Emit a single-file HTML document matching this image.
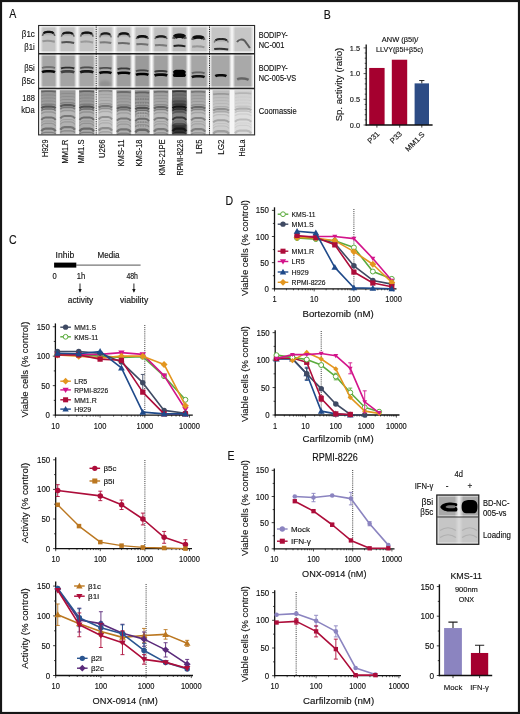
<!DOCTYPE html>
<html><head><meta charset="utf-8"><style>
html,body{margin:0;padding:0;background:#fff;width:520px;height:714px;overflow:hidden}
svg{display:block;will-change:transform}
text{font-family:"Liberation Sans",sans-serif}
</style></head><body>
<svg width="520" height="714" viewBox="0 0 520 714" font-family="Liberation Sans, sans-serif">
<defs><filter id="b1" filterUnits="userSpaceOnUse" x="0" y="0" width="520" height="714"><feGaussianBlur stdDeviation="0.8"/></filter><filter id="b2" filterUnits="userSpaceOnUse" x="0" y="0" width="520" height="714"><feGaussianBlur stdDeviation="1.2"/></filter><filter id="b05" filterUnits="userSpaceOnUse" x="0" y="0" width="520" height="714"><feGaussianBlur stdDeviation="0.45"/></filter></defs>
<rect width="520" height="714" fill="#fff"/>
<text x="9.2" y="18.3" font-size="12" text-anchor="start" fill="#111" stroke="#111" stroke-width="0.14" textLength="7.04385" lengthAdjust="spacingAndGlyphs">A</text>
<text x="323.8" y="18.5" font-size="12" text-anchor="start" fill="#111" stroke="#111" stroke-width="0.14" textLength="7.04385" lengthAdjust="spacingAndGlyphs">B</text>
<text x="9" y="243.7" font-size="12" text-anchor="start" fill="#111" stroke="#111" stroke-width="0.14" textLength="7.6263" lengthAdjust="spacingAndGlyphs">C</text>
<text x="225.4" y="205" font-size="12" text-anchor="start" fill="#111" stroke="#111" stroke-width="0.14" textLength="7.6263" lengthAdjust="spacingAndGlyphs">D</text>
<text x="227.6" y="459.5" font-size="12" text-anchor="start" fill="#111" stroke="#111" stroke-width="0.14" textLength="7.04385" lengthAdjust="spacingAndGlyphs">E</text>
<defs><linearGradient id="gapg" x1="0" x2="1" y1="0" y2="0"><stop offset="0" stop-color="#fff" stop-opacity="0"/><stop offset="0.5" stop-color="#fff" stop-opacity="0.9"/><stop offset="1" stop-color="#fff" stop-opacity="0"/></linearGradient><linearGradient id="arch" x1="0" x2="0" y1="0" y2="1"><stop offset="0" stop-color="#000" stop-opacity="0.25"/><stop offset="1" stop-color="#000" stop-opacity="0"/></linearGradient><filter id="b07" filterUnits="userSpaceOnUse" x="0" y="0" width="520" height="714"><feGaussianBlur stdDeviation="0.7"/></filter><filter id="b03" filterUnits="userSpaceOnUse" x="0" y="0" width="520" height="714"><feGaussianBlur stdDeviation="0.35"/></filter></defs>
<rect x="38.6" y="25.5" width="216.0" height="28.200000000000003" fill="#c4c4c4"/>
<rect x="38.6" y="53.7" width="216.0" height="34.7" fill="#a6a6a6"/>
<rect x="60.0" y="53.7" width="15.299999999999997" height="34.7" fill="#000" opacity="0.01"/>
<rect x="116.6" y="53.7" width="14.400000000000006" height="34.7" fill="#000" opacity="0.05"/>
<rect x="135.0" y="25.5" width="14.400000000000006" height="28.200000000000003" fill="#000" opacity="0.02"/>
<rect x="135.0" y="53.7" width="14.400000000000006" height="34.7" fill="#000" opacity="0.07"/>
<rect x="153.6" y="25.5" width="14.599999999999994" height="28.200000000000003" fill="#000" opacity="0.02"/>
<rect x="153.6" y="53.7" width="14.599999999999994" height="34.7" fill="#000" opacity="0.03"/>
<rect x="172.2" y="25.5" width="14.400000000000006" height="28.200000000000003" fill="#000" opacity="0.03"/>
<rect x="172.2" y="53.7" width="14.400000000000006" height="34.7" fill="#000" opacity="0.02"/>
<rect x="212.8" y="25.5" width="16.599999999999994" height="28.200000000000003" fill="#fff" opacity="0.02"/>
<rect x="212.8" y="53.7" width="16.599999999999994" height="34.7" fill="#fff" opacity="0.02"/>
<rect x="234.6" y="25.5" width="17.0" height="28.200000000000003" fill="#fff" opacity="0.04"/>
<rect x="234.6" y="53.7" width="17.0" height="34.7" fill="#fff" opacity="0.04"/>
<ellipse cx="105" cy="84" rx="6" ry="3.5" fill="#000" opacity="0.12" filter="url(#b1)"/>
<rect x="38.6" y="26.0" width="216.0" height="1.3" fill="#f0f0f0" filter="url(#b03)"/>
<rect x="38.6" y="51.400000000000006" width="216.0" height="1.4" fill="#f0f0f0" filter="url(#b03)"/>
<rect x="38.6" y="54.6" width="216.0" height="1.2" fill="#d4d4d4" filter="url(#b03)"/>
<rect x="38.6" y="86.4" width="216.0" height="1.3" fill="#e0e0e0" filter="url(#b03)"/>
<rect x="36.20" y="25.5" width="6.8" height="62.900000000000006" fill="url(#gapg)"/>
<rect x="37.20" y="53.7" width="4.8" height="34.7" fill="url(#gapg)" opacity="0.6"/>
<rect x="54.60" y="25.5" width="6.8" height="62.900000000000006" fill="url(#gapg)"/>
<rect x="55.60" y="53.7" width="4.8" height="34.7" fill="url(#gapg)" opacity="0.6"/>
<rect x="73.85" y="25.5" width="6.8" height="62.900000000000006" fill="url(#gapg)"/>
<rect x="74.85" y="53.7" width="4.8" height="34.7" fill="url(#gapg)" opacity="0.6"/>
<rect x="92.95" y="25.5" width="6.8" height="62.900000000000006" fill="url(#gapg)"/>
<rect x="93.95" y="53.7" width="4.8" height="34.7" fill="url(#gapg)" opacity="0.6"/>
<rect x="111.10" y="25.5" width="6.8" height="62.900000000000006" fill="url(#gapg)"/>
<rect x="112.10" y="53.7" width="4.8" height="34.7" fill="url(#gapg)" opacity="0.6"/>
<rect x="129.60" y="25.5" width="6.8" height="62.900000000000006" fill="url(#gapg)"/>
<rect x="130.60" y="53.7" width="4.8" height="34.7" fill="url(#gapg)" opacity="0.6"/>
<rect x="148.10" y="25.5" width="6.8" height="62.900000000000006" fill="url(#gapg)"/>
<rect x="149.10" y="53.7" width="4.8" height="34.7" fill="url(#gapg)" opacity="0.6"/>
<rect x="166.80" y="25.5" width="6.8" height="62.900000000000006" fill="url(#gapg)"/>
<rect x="167.80" y="53.7" width="4.8" height="34.7" fill="url(#gapg)" opacity="0.6"/>
<rect x="185.30" y="25.5" width="6.8" height="62.900000000000006" fill="url(#gapg)"/>
<rect x="186.30" y="53.7" width="4.8" height="34.7" fill="url(#gapg)" opacity="0.6"/>
<rect x="205.80" y="25.5" width="6.8" height="62.900000000000006" fill="url(#gapg)"/>
<rect x="206.80" y="53.7" width="4.8" height="34.7" fill="url(#gapg)" opacity="0.6"/>
<rect x="228.60" y="25.5" width="6.8" height="62.900000000000006" fill="url(#gapg)"/>
<rect x="229.60" y="53.7" width="4.8" height="34.7" fill="url(#gapg)" opacity="0.6"/>
<rect x="250.40" y="25.5" width="6.8" height="62.900000000000006" fill="url(#gapg)"/>
<rect x="251.40" y="53.7" width="4.8" height="34.7" fill="url(#gapg)" opacity="0.6"/>
<path d="M42.40 35.90C43.02 33.10 44.26 31.90 46.74 31.90H50.46C52.94 31.90 54.18 33.10 54.80 35.90" fill="url(#arch)" stroke="none" filter="url(#b07)"/>
<path d="M42.40 35.90C43.02 33.10 44.26 31.90 46.74 31.90H50.46C52.94 31.90 54.18 33.10 54.80 35.90" fill="none" stroke="#111" stroke-opacity="0.57" stroke-width="1.53" filter="url(#b05)"/>
<path d="M43.64 33.20C44.88 31.90 46.12 31.90 47.36 31.90H49.84C51.08 31.90 52.32 31.90 53.56 33.20" fill="none" stroke="#0a0a0a" stroke-opacity="0.95" stroke-width="2.295" filter="url(#b05)"/>
<path d="M42.40 41.20Q48.60 40.30 54.80 41.70" fill="none" stroke="#222" stroke-opacity="0.28" stroke-width="2.0" filter="url(#b07)"/>
<path d="M61.40 36.60C62.03 33.80 63.30 32.60 65.84 32.60H69.66C72.19 32.60 73.46 33.80 74.10 36.60" fill="url(#arch)" stroke="none" filter="url(#b07)"/>
<path d="M61.40 36.60C62.03 33.80 63.30 32.60 65.84 32.60H69.66C72.19 32.60 73.46 33.80 74.10 36.60" fill="none" stroke="#111" stroke-opacity="0.54" stroke-width="1.4400000000000002" filter="url(#b05)"/>
<path d="M62.67 33.90C63.94 32.60 65.21 32.60 66.48 32.60H69.02C70.29 32.60 71.56 32.60 72.83 33.90" fill="none" stroke="#0a0a0a" stroke-opacity="0.9" stroke-width="2.16" filter="url(#b05)"/>
<path d="M61.40 42.40Q67.75 41.50 74.10 42.90" fill="none" stroke="#222" stroke-opacity="0.7" stroke-width="2.0" filter="url(#b07)"/>
<path d="M80.60 36.60C81.23 33.80 82.48 32.60 84.98 32.60H88.72C91.22 32.60 92.47 33.80 93.10 36.60" fill="url(#arch)" stroke="none" filter="url(#b07)"/>
<path d="M80.60 36.60C81.23 33.80 82.48 32.60 84.98 32.60H88.72C91.22 32.60 92.47 33.80 93.10 36.60" fill="none" stroke="#111" stroke-opacity="0.57" stroke-width="1.53" filter="url(#b05)"/>
<path d="M81.85 33.90C83.10 32.60 84.35 32.60 85.60 32.60H88.10C89.35 32.60 90.60 32.60 91.85 33.90" fill="none" stroke="#0a0a0a" stroke-opacity="0.95" stroke-width="2.295" filter="url(#b05)"/>
<path d="M80.60 41.90Q86.85 41.00 93.10 42.40" fill="none" stroke="#222" stroke-opacity="0.25" stroke-width="2.0" filter="url(#b07)"/>
<path d="M99.80 37.40C100.37 34.60 101.51 33.40 103.79 33.40H107.21C109.49 33.40 110.63 34.60 111.20 37.40" fill="url(#arch)" stroke="none" filter="url(#b07)"/>
<path d="M99.80 37.40C100.37 34.60 101.51 33.40 103.79 33.40H107.21C109.49 33.40 110.63 34.60 111.20 37.40" fill="none" stroke="#111" stroke-opacity="0.51" stroke-width="1.4400000000000002" filter="url(#b05)"/>
<path d="M100.94 34.70C102.08 33.40 103.22 33.40 104.36 33.40H106.64C107.78 33.40 108.92 33.40 110.06 34.70" fill="none" stroke="#0a0a0a" stroke-opacity="0.85" stroke-width="2.16" filter="url(#b05)"/>
<path d="M99.80 42.50Q105.50 41.60 111.20 43.00" fill="none" stroke="#222" stroke-opacity="0.45" stroke-width="2.0" filter="url(#b07)"/>
<path d="M118.00 37.40C118.59 34.60 119.77 33.40 122.13 33.40H125.67C128.03 33.40 129.21 34.60 129.80 37.40" fill="url(#arch)" stroke="none" filter="url(#b07)"/>
<path d="M118.00 37.40C118.59 34.60 119.77 33.40 122.13 33.40H125.67C128.03 33.40 129.21 34.60 129.80 37.40" fill="none" stroke="#111" stroke-opacity="0.57" stroke-width="1.62" filter="url(#b05)"/>
<path d="M119.18 34.70C120.36 33.40 121.54 33.40 122.72 33.40H125.08C126.26 33.40 127.44 33.40 128.62 34.70" fill="none" stroke="#0a0a0a" stroke-opacity="0.95" stroke-width="2.43" filter="url(#b05)"/>
<path d="M118.00 43.30Q123.90 42.40 129.80 43.80" fill="none" stroke="#222" stroke-opacity="0.55" stroke-width="2.0" filter="url(#b07)"/>
<path d="M136.40 38.90C136.99 37.08 138.17 36.30 140.53 36.30H144.07C146.43 36.30 147.61 37.08 148.20 38.90" fill="url(#arch)" stroke="none" filter="url(#b07)"/>
<path d="M136.40 38.90C136.99 37.08 138.17 36.30 140.53 36.30H144.07C146.43 36.30 147.61 37.08 148.20 38.90" fill="none" stroke="#111" stroke-opacity="0.6" stroke-width="1.71" filter="url(#b05)"/>
<path d="M137.58 37.60C138.76 36.30 139.94 36.30 141.12 36.30H143.48C144.66 36.30 145.84 36.30 147.02 37.60" fill="none" stroke="#0a0a0a" stroke-opacity="1.0" stroke-width="2.565" filter="url(#b05)"/>
<path d="M136.40 44.30Q142.30 43.40 148.20 44.80" fill="none" stroke="#222" stroke-opacity="0.5" stroke-width="2.0" filter="url(#b07)"/>
<path d="M155.00 38.90C155.60 37.08 156.80 36.30 159.20 36.30H162.80C165.20 36.30 166.40 37.08 167.00 38.90" fill="url(#arch)" stroke="none" filter="url(#b07)"/>
<path d="M155.00 38.90C155.60 37.08 156.80 36.30 159.20 36.30H162.80C165.20 36.30 166.40 37.08 167.00 38.90" fill="none" stroke="#111" stroke-opacity="0.51" stroke-width="1.4400000000000002" filter="url(#b05)"/>
<path d="M156.20 37.60C157.40 36.30 158.60 36.30 159.80 36.30H162.20C163.40 36.30 164.60 36.30 165.80 37.60" fill="none" stroke="#0a0a0a" stroke-opacity="0.85" stroke-width="2.16" filter="url(#b05)"/>
<path d="M155.00 45.30Q161.00 44.40 167.00 45.80" fill="none" stroke="#222" stroke-opacity="0.45" stroke-width="2.0" filter="url(#b07)"/>
<path d="M173.60 38.80C174.19 36.70 175.37 35.80 177.73 35.80H181.27C183.63 35.80 184.81 36.70 185.40 38.80" fill="url(#arch)" stroke="none" filter="url(#b07)"/>
<path d="M173.60 38.80C174.19 36.70 175.37 35.80 177.73 35.80H181.27C183.63 35.80 184.81 36.70 185.40 38.80" fill="none" stroke="#111" stroke-opacity="0.6" stroke-width="3.06" filter="url(#b05)"/>
<path d="M174.78 37.10C175.96 35.80 177.14 35.80 178.32 35.80H180.68C181.86 35.80 183.04 35.80 184.22 37.10" fill="none" stroke="#0a0a0a" stroke-opacity="1.0" stroke-width="4.59" filter="url(#b05)"/>
<path d="M173.60 45.90Q179.50 45.00 185.40 46.40" fill="none" stroke="#222" stroke-opacity="1.0" stroke-width="2.0" filter="url(#b07)"/>
<path d="M192.20 39.80C192.81 37.84 194.03 37.00 196.47 37.00H200.13C202.57 37.00 203.79 37.84 204.40 39.80" fill="url(#arch)" stroke="none" filter="url(#b07)"/>
<path d="M192.20 39.80C192.81 37.84 194.03 37.00 196.47 37.00H200.13C202.57 37.00 203.79 37.84 204.40 39.80" fill="none" stroke="#111" stroke-opacity="0.6" stroke-width="2.3400000000000003" filter="url(#b05)"/>
<path d="M193.42 38.30C194.64 37.00 195.86 37.00 197.08 37.00H199.52C200.74 37.00 201.96 37.00 203.18 38.30" fill="none" stroke="#0a0a0a" stroke-opacity="1.0" stroke-width="3.5100000000000002" filter="url(#b05)"/>
<path d="M192.20 46.70Q198.30 45.80 204.40 47.20" fill="none" stroke="#222" stroke-opacity="0.28" stroke-width="2.0" filter="url(#b07)"/>
<path d="M214.20 42.50C214.90 40.05 216.30 39.00 219.10 39.00H223.30C226.10 39.00 227.50 40.05 228.20 42.50" fill="url(#arch)" stroke="none" filter="url(#b07)"/>
<path d="M214.20 42.50C214.90 40.05 216.30 39.00 219.10 39.00H223.30C226.10 39.00 227.50 40.05 228.20 42.50" fill="none" stroke="#111" stroke-opacity="0.44999999999999996" stroke-width="1.35" filter="url(#b05)"/>
<path d="M215.60 40.30C217.00 39.00 218.40 39.00 219.80 39.00H222.60C224.00 39.00 225.40 39.00 226.80 40.30" fill="none" stroke="#0a0a0a" stroke-opacity="0.75" stroke-width="2.0250000000000004" filter="url(#b05)"/>
<path d="M214.20 49.10Q221.20 48.20 228.20 49.60" fill="none" stroke="#222" stroke-opacity="0.9" stroke-width="2.0" filter="url(#b07)"/>
<path d="M237.00 42.00C238.88 39.20 242.48 38.90 244.64 40.70L249.90 48.00" fill="none" stroke="#111" stroke-opacity="0.6" stroke-width="1.9500000000000002" filter="url(#b07)"/>
<path d="M42.00 68.00C43.30 67.36 44.60 67.20 46.55 67.20H50.45C52.40 67.20 53.70 67.36 55.00 68.00" fill="none" stroke="#111" stroke-opacity="0.3825" stroke-width="1.8" filter="url(#b07)"/>
<path d="M42.00 72.10C43.30 71.38 44.60 71.20 46.55 71.20H50.45C52.40 71.20 53.70 71.38 55.00 72.10" fill="none" stroke="#050505" stroke-opacity="0.95" stroke-width="2.6" filter="url(#b05)"/>
<path d="M61.00 68.40C62.33 67.76 63.66 67.60 65.66 67.60H69.64C71.64 67.60 72.97 67.76 74.30 68.40" fill="none" stroke="#111" stroke-opacity="0.8075" stroke-width="1.8" filter="url(#b07)"/>
<path d="M61.00 72.30C62.33 71.58 63.66 71.40 65.66 71.40H69.64C71.64 71.40 72.97 71.58 74.30 72.30" fill="none" stroke="#050505" stroke-opacity="0.6" stroke-width="2.6" filter="url(#b05)"/>
<path d="M80.20 68.20C81.51 67.56 82.82 67.40 84.78 67.40H88.72C90.68 67.40 91.99 67.56 93.30 68.20" fill="none" stroke="#111" stroke-opacity="0.595" stroke-width="1.8" filter="url(#b07)"/>
<path d="M80.20 72.30C81.51 71.58 82.82 71.40 84.78 71.40H88.72C90.68 71.40 91.99 71.58 93.30 72.30" fill="none" stroke="#050505" stroke-opacity="0.85" stroke-width="2.6" filter="url(#b05)"/>
<path d="M99.40 68.60C100.60 67.96 101.80 67.80 103.60 67.80H107.20C109.00 67.80 110.20 67.96 111.40 68.60" fill="none" stroke="#111" stroke-opacity="0.595" stroke-width="1.8" filter="url(#b07)"/>
<path d="M99.40 73.10C100.60 72.38 101.80 72.20 103.60 72.20H107.20C109.00 72.20 110.20 72.38 111.40 73.10" fill="none" stroke="#050505" stroke-opacity="0.95" stroke-width="2.6" filter="url(#b05)"/>
<path d="M117.60 69.20C118.84 68.56 120.08 68.40 121.94 68.40H125.66C127.52 68.40 128.76 68.56 130.00 69.20" fill="none" stroke="#111" stroke-opacity="0.7224999999999999" stroke-width="1.8" filter="url(#b07)"/>
<path d="M117.60 73.70C118.84 72.98 120.08 72.80 121.94 72.80H125.66C127.52 72.80 128.76 72.98 130.00 73.70" fill="none" stroke="#050505" stroke-opacity="1.0" stroke-width="2.6" filter="url(#b05)"/>
<path d="M136.00 71.20C137.24 70.56 138.48 70.40 140.34 70.40H144.06C145.92 70.40 147.16 70.56 148.40 71.20" fill="none" stroke="#111" stroke-opacity="0.6375" stroke-width="1.8" filter="url(#b07)"/>
<path d="M136.00 74.90C137.24 74.18 138.48 74.00 140.34 74.00H144.06C145.92 74.00 147.16 74.18 148.40 74.90" fill="none" stroke="#050505" stroke-opacity="1.0" stroke-width="2.6" filter="url(#b05)"/>
<path d="M154.60 71.80C155.86 71.16 157.12 71.00 159.01 71.00H162.79C164.68 71.00 165.94 71.16 167.20 71.80" fill="none" stroke="#111" stroke-opacity="0.7224999999999999" stroke-width="1.8" filter="url(#b07)"/>
<path d="M154.60 75.50C155.86 74.78 157.12 74.60 159.01 74.60H162.79C164.68 74.60 165.94 74.78 167.20 75.50" fill="none" stroke="#050505" stroke-opacity="0.95" stroke-width="2.6" filter="url(#b05)"/>
<path d="M173.20 72.10C174.44 71.46 175.68 71.30 177.54 71.30H181.26C183.12 71.30 184.36 71.46 185.60 72.10" fill="none" stroke="#111" stroke-opacity="0.85" stroke-width="1.8" filter="url(#b07)"/>
<path d="M173.20 75.90C174.44 75.18 175.68 75.00 177.54 75.00H181.26C183.12 75.00 184.36 75.18 185.60 75.90" fill="none" stroke="#050505" stroke-opacity="1.0" stroke-width="2.6" filter="url(#b05)"/>
<rect x="173.50" y="69.8" width="11.80" height="7.2" rx="2.5" fill="#000" filter="url(#b03)"/>
<path d="M191.80 73.20C193.08 72.56 194.36 72.40 196.28 72.40H200.12C202.04 72.40 203.32 72.56 204.60 73.20" fill="none" stroke="#111" stroke-opacity="0.4675" stroke-width="1.8" filter="url(#b07)"/>
<path d="M191.80 77.10C193.08 76.38 194.36 76.20 196.28 76.20H200.12C202.04 76.20 203.32 76.38 204.60 77.10" fill="none" stroke="#050505" stroke-opacity="0.9" stroke-width="2.6" filter="url(#b05)"/>
<path d="M215.30 76.10C216.41 75.38 217.52 75.20 219.19 75.20H222.52C224.18 75.20 225.29 75.38 226.40 76.10" fill="none" stroke="#050505" stroke-opacity="0.95" stroke-width="2.6" filter="url(#b05)"/>
<path d="M237.10 79.70C238.25 78.98 239.40 78.80 241.12 78.80H244.57C246.30 78.80 247.45 78.98 248.60 79.70" fill="none" stroke="#050505" stroke-opacity="0.22" stroke-width="2.6" filter="url(#b05)"/>
<path d="M237.10 79.00Q242.85 77.00 248.60 80.00" fill="none" stroke="#000" stroke-opacity="0.25" stroke-width="2.2" filter="url(#b07)"/>
<rect x="38.6" y="88.4" width="216.0" height="46.5" fill="#f6f6f6"/>
<defs><linearGradient id="cg" x1="0" x2="0" y1="0" y2="1"><stop offset="0" stop-color="#000" stop-opacity="0.18"/><stop offset="0.35" stop-color="#000" stop-opacity="0.1"/><stop offset="0.5" stop-color="#000" stop-opacity="0"/><stop offset="1" stop-color="#000" stop-opacity="0.05"/></linearGradient></defs>
<rect x="40.80" y="90.2" width="15.40" height="44.10" fill="#b3b3b3" filter="url(#b03)"/>
<rect x="40.80" y="90.2" width="15.40" height="44.10" fill="url(#cg)" opacity="1.00"/>
<path d="M41.30 91.70C42.80 91.28 44.00 91.20 45.50 91.20H51.50C53.00 91.20 54.20 91.28 55.70 91.70" fill="none" stroke="#000" stroke-opacity="0.32" stroke-width="1.8" filter="url(#b03)"/>
<path d="M41.30 95.60C42.80 95.09 44.00 95.00 45.50 95.00H51.50C53.00 95.00 54.20 95.09 55.70 95.60" fill="none" stroke="#000" stroke-opacity="0.10" stroke-width="1.0" filter="url(#b03)"/>
<path d="M41.30 98.80C42.80 98.12 44.00 98.00 45.50 98.00H51.50C53.00 98.00 54.20 98.12 55.70 98.80" fill="none" stroke="#000" stroke-opacity="0.10" stroke-width="1.0" filter="url(#b03)"/>
<path d="M41.30 102.00C42.80 101.15 44.00 101.00 45.50 101.00H51.50C53.00 101.00 54.20 101.15 55.70 102.00" fill="none" stroke="#000" stroke-opacity="0.11" stroke-width="1.0" filter="url(#b03)"/>
<path d="M41.30 105.40C42.80 104.38 44.00 104.20 45.50 104.20H51.50C53.00 104.20 54.20 104.38 55.70 105.40" fill="none" stroke="#000" stroke-opacity="0.20" stroke-width="1.4" filter="url(#b03)"/>
<path d="M41.30 108.10C42.80 106.82 44.00 106.60 45.50 106.60H51.50C53.00 106.60 54.20 106.82 55.70 108.10" fill="none" stroke="#000" stroke-opacity="0.48" stroke-width="2.2" filter="url(#b03)"/>
<path d="M41.30 110.60C42.80 109.24 44.00 109.00 45.50 109.00H51.50C53.00 109.00 54.20 109.24 55.70 110.60" fill="none" stroke="#000" stroke-opacity="0.32" stroke-width="1.6" filter="url(#b03)"/>
<path d="M41.30 113.80C42.80 112.27 44.00 112.00 45.50 112.00H51.50C53.00 112.00 54.20 112.27 55.70 113.80" fill="none" stroke="#000" stroke-opacity="0.16" stroke-width="1.3" filter="url(#b03)"/>
<path d="M41.30 119.80C42.80 117.93 44.00 117.60 45.50 117.60H51.50C53.00 117.60 54.20 117.93 55.70 119.80" fill="none" stroke="#000" stroke-opacity="0.36" stroke-width="2.0" filter="url(#b03)"/>
<path d="M41.30 123.20C42.80 121.33 44.00 121.00 45.50 121.00H51.50C53.00 121.00 54.20 121.33 55.70 123.20" fill="none" stroke="#000" stroke-opacity="0.12" stroke-width="1.0" filter="url(#b03)"/>
<path d="M41.30 125.80C42.80 123.76 44.00 123.40 45.50 123.40H51.50C53.00 123.40 54.20 123.76 55.70 125.80" fill="none" stroke="#000" stroke-opacity="0.14" stroke-width="1.2" filter="url(#b03)"/>
<path d="M41.30 131.20C42.80 128.99 44.00 128.60 45.50 128.60H51.50C53.00 128.60 54.20 128.99 55.70 131.20" fill="none" stroke="#000" stroke-opacity="0.36" stroke-width="2.4" filter="url(#b03)"/>
<path d="M41.30 133.90C42.80 132.62 44.00 132.40 45.50 132.40H51.50C53.00 132.40 54.20 132.62 55.70 133.90" fill="none" stroke="#000" stroke-opacity="0.24" stroke-width="1.4" filter="url(#b03)"/>
<rect x="59.80" y="90.2" width="15.70" height="44.10" fill="#b6b6b6" filter="url(#b03)"/>
<rect x="59.80" y="90.2" width="15.70" height="44.10" fill="url(#cg)" opacity="0.95"/>
<path d="M60.30 94.10C61.84 93.59 63.06 93.50 64.59 93.50H70.71C72.24 93.50 73.46 93.59 75.00 94.10" fill="none" stroke="#000" stroke-opacity="0.09" stroke-width="1.0" filter="url(#b03)"/>
<path d="M60.30 97.30C61.84 96.62 63.06 96.50 64.59 96.50H70.71C72.24 96.50 73.46 96.62 75.00 97.30" fill="none" stroke="#000" stroke-opacity="0.09" stroke-width="1.0" filter="url(#b03)"/>
<path d="M60.30 100.50C61.84 99.65 63.06 99.50 64.59 99.50H70.71C72.24 99.50 73.46 99.65 75.00 100.50" fill="none" stroke="#000" stroke-opacity="0.11" stroke-width="1.0" filter="url(#b03)"/>
<path d="M60.30 103.90C61.84 102.88 63.06 102.70 64.59 102.70H70.71C72.24 102.70 73.46 102.88 75.00 103.90" fill="none" stroke="#000" stroke-opacity="0.19" stroke-width="1.4" filter="url(#b03)"/>
<path d="M60.30 106.60C61.84 105.32 63.06 105.10 64.59 105.10H70.71C72.24 105.10 73.46 105.32 75.00 106.60" fill="none" stroke="#000" stroke-opacity="0.46" stroke-width="2.2" filter="url(#b03)"/>
<path d="M60.30 109.10C61.84 107.74 63.06 107.50 64.59 107.50H70.71C72.24 107.50 73.46 107.74 75.00 109.10" fill="none" stroke="#000" stroke-opacity="0.30" stroke-width="1.6" filter="url(#b03)"/>
<path d="M60.30 112.30C61.84 110.77 63.06 110.50 64.59 110.50H70.71C72.24 110.50 73.46 110.77 75.00 112.30" fill="none" stroke="#000" stroke-opacity="0.15" stroke-width="1.3" filter="url(#b03)"/>
<path d="M60.30 118.30C61.84 116.43 63.06 116.10 64.59 116.10H70.71C72.24 116.10 73.46 116.43 75.00 118.30" fill="none" stroke="#000" stroke-opacity="0.34" stroke-width="2.0" filter="url(#b03)"/>
<path d="M60.30 121.70C61.84 119.83 63.06 119.50 64.59 119.50H70.71C72.24 119.50 73.46 119.83 75.00 121.70" fill="none" stroke="#000" stroke-opacity="0.11" stroke-width="1.0" filter="url(#b03)"/>
<path d="M60.30 124.30C61.84 122.26 63.06 121.90 64.59 121.90H70.71C72.24 121.90 73.46 122.26 75.00 124.30" fill="none" stroke="#000" stroke-opacity="0.14" stroke-width="1.2" filter="url(#b03)"/>
<path d="M60.30 129.70C61.84 127.49 63.06 127.10 64.59 127.10H70.71C72.24 127.10 73.46 127.49 75.00 129.70" fill="none" stroke="#000" stroke-opacity="0.34" stroke-width="2.4" filter="url(#b03)"/>
<path d="M60.30 132.40C61.84 131.12 63.06 130.90 64.59 130.90H70.71C72.24 130.90 73.46 131.12 75.00 132.40" fill="none" stroke="#000" stroke-opacity="0.23" stroke-width="1.4" filter="url(#b03)"/>
<rect x="79.00" y="90.2" width="15.50" height="44.10" fill="#afafaf" filter="url(#b03)"/>
<rect x="79.00" y="90.2" width="15.50" height="44.10" fill="url(#cg)" opacity="1.00"/>
<path d="M79.50 91.70C81.01 91.28 82.22 91.20 83.73 91.20H89.77C91.28 91.20 92.49 91.28 94.00 91.70" fill="none" stroke="#000" stroke-opacity="0.34" stroke-width="1.8" filter="url(#b03)"/>
<path d="M79.50 95.60C81.01 95.09 82.22 95.00 83.73 95.00H89.77C91.28 95.00 92.49 95.09 94.00 95.60" fill="none" stroke="#000" stroke-opacity="0.10" stroke-width="1.0" filter="url(#b03)"/>
<path d="M79.50 98.80C81.01 98.12 82.22 98.00 83.73 98.00H89.77C91.28 98.00 92.49 98.12 94.00 98.80" fill="none" stroke="#000" stroke-opacity="0.10" stroke-width="1.0" filter="url(#b03)"/>
<path d="M79.50 102.00C81.01 101.15 82.22 101.00 83.73 101.00H89.77C91.28 101.00 92.49 101.15 94.00 102.00" fill="none" stroke="#000" stroke-opacity="0.12" stroke-width="1.0" filter="url(#b03)"/>
<path d="M79.50 105.40C81.01 104.38 82.22 104.20 83.73 104.20H89.77C91.28 104.20 92.49 104.38 94.00 105.40" fill="none" stroke="#000" stroke-opacity="0.21" stroke-width="1.4" filter="url(#b03)"/>
<path d="M79.50 108.10C81.01 106.82 82.22 106.60 83.73 106.60H89.77C91.28 106.60 92.49 106.82 94.00 108.10" fill="none" stroke="#000" stroke-opacity="0.50" stroke-width="2.2" filter="url(#b03)"/>
<path d="M79.50 110.60C81.01 109.24 82.22 109.00 83.73 109.00H89.77C91.28 109.00 92.49 109.24 94.00 110.60" fill="none" stroke="#000" stroke-opacity="0.34" stroke-width="1.6" filter="url(#b03)"/>
<path d="M79.50 113.80C81.01 112.27 82.22 112.00 83.73 112.00H89.77C91.28 112.00 92.49 112.27 94.00 113.80" fill="none" stroke="#000" stroke-opacity="0.17" stroke-width="1.3" filter="url(#b03)"/>
<path d="M79.50 119.80C81.01 117.93 82.22 117.60 83.73 117.60H89.77C91.28 117.60 92.49 117.93 94.00 119.80" fill="none" stroke="#000" stroke-opacity="0.38" stroke-width="2.0" filter="url(#b03)"/>
<path d="M79.50 123.20C81.01 121.33 82.22 121.00 83.73 121.00H89.77C91.28 121.00 92.49 121.33 94.00 123.20" fill="none" stroke="#000" stroke-opacity="0.13" stroke-width="1.0" filter="url(#b03)"/>
<path d="M79.50 125.80C81.01 123.76 82.22 123.40 83.73 123.40H89.77C91.28 123.40 92.49 123.76 94.00 125.80" fill="none" stroke="#000" stroke-opacity="0.15" stroke-width="1.2" filter="url(#b03)"/>
<path d="M79.50 131.20C81.01 128.99 82.22 128.60 83.73 128.60H89.77C91.28 128.60 92.49 128.99 94.00 131.20" fill="none" stroke="#000" stroke-opacity="0.38" stroke-width="2.4" filter="url(#b03)"/>
<path d="M79.50 133.90C81.01 132.62 82.22 132.40 83.73 132.40H89.77C91.28 132.40 92.49 132.62 94.00 133.90" fill="none" stroke="#000" stroke-opacity="0.25" stroke-width="1.4" filter="url(#b03)"/>
<rect x="98.20" y="90.2" width="14.40" height="44.10" fill="#c6c6c6" filter="url(#b03)"/>
<rect x="98.20" y="90.2" width="14.40" height="44.10" fill="url(#cg)" opacity="0.75"/>
<path d="M98.70 91.20C100.08 90.78 101.20 90.70 102.60 90.70H108.20C109.60 90.70 110.72 90.78 112.10 91.20" fill="none" stroke="#000" stroke-opacity="0.24" stroke-width="1.8" filter="url(#b03)"/>
<path d="M98.70 95.10C100.08 94.59 101.20 94.50 102.60 94.50H108.20C109.60 94.50 110.72 94.59 112.10 95.10" fill="none" stroke="#000" stroke-opacity="0.07" stroke-width="1.0" filter="url(#b03)"/>
<path d="M98.70 98.30C100.08 97.62 101.20 97.50 102.60 97.50H108.20C109.60 97.50 110.72 97.62 112.10 98.30" fill="none" stroke="#000" stroke-opacity="0.07" stroke-width="1.0" filter="url(#b03)"/>
<path d="M98.70 101.50C100.08 100.65 101.20 100.50 102.60 100.50H108.20C109.60 100.50 110.72 100.65 112.10 101.50" fill="none" stroke="#000" stroke-opacity="0.08" stroke-width="1.0" filter="url(#b03)"/>
<path d="M98.70 104.90C100.08 103.88 101.20 103.70 102.60 103.70H108.20C109.60 103.70 110.72 103.88 112.10 104.90" fill="none" stroke="#000" stroke-opacity="0.15" stroke-width="1.4" filter="url(#b03)"/>
<path d="M98.70 107.60C100.08 106.32 101.20 106.10 102.60 106.10H108.20C109.60 106.10 110.72 106.32 112.10 107.60" fill="none" stroke="#000" stroke-opacity="0.36" stroke-width="2.2" filter="url(#b03)"/>
<path d="M98.70 110.10C100.08 108.74 101.20 108.50 102.60 108.50H108.20C109.60 108.50 110.72 108.74 112.10 110.10" fill="none" stroke="#000" stroke-opacity="0.24" stroke-width="1.6" filter="url(#b03)"/>
<path d="M98.70 113.30C100.08 111.77 101.20 111.50 102.60 111.50H108.20C109.60 111.50 110.72 111.77 112.10 113.30" fill="none" stroke="#000" stroke-opacity="0.12" stroke-width="1.3" filter="url(#b03)"/>
<path d="M98.70 119.30C100.08 117.43 101.20 117.10 102.60 117.10H108.20C109.60 117.10 110.72 117.43 112.10 119.30" fill="none" stroke="#000" stroke-opacity="0.27" stroke-width="2.0" filter="url(#b03)"/>
<path d="M98.70 122.70C100.08 120.83 101.20 120.50 102.60 120.50H108.20C109.60 120.50 110.72 120.83 112.10 122.70" fill="none" stroke="#000" stroke-opacity="0.09" stroke-width="1.0" filter="url(#b03)"/>
<path d="M98.70 125.30C100.08 123.26 101.20 122.90 102.60 122.90H108.20C109.60 122.90 110.72 123.26 112.10 125.30" fill="none" stroke="#000" stroke-opacity="0.11" stroke-width="1.2" filter="url(#b03)"/>
<path d="M98.70 130.70C100.08 128.49 101.20 128.10 102.60 128.10H108.20C109.60 128.10 110.72 128.49 112.10 130.70" fill="none" stroke="#000" stroke-opacity="0.27" stroke-width="2.4" filter="url(#b03)"/>
<path d="M98.70 133.40C100.08 132.12 101.20 131.90 102.60 131.90H108.20C109.60 131.90 110.72 132.12 112.10 133.40" fill="none" stroke="#000" stroke-opacity="0.18" stroke-width="1.4" filter="url(#b03)"/>
<rect x="116.40" y="90.2" width="14.80" height="44.10" fill="#b6b6b6" filter="url(#b03)"/>
<rect x="116.40" y="90.2" width="14.80" height="44.10" fill="url(#cg)" opacity="0.95"/>
<path d="M116.90 92.50C118.33 92.08 119.48 92.00 120.92 92.00H126.68C128.12 92.00 129.27 92.08 130.70 92.50" fill="none" stroke="#000" stroke-opacity="0.30" stroke-width="1.8" filter="url(#b03)"/>
<path d="M116.90 96.40C118.33 95.89 119.48 95.80 120.92 95.80H126.68C128.12 95.80 129.27 95.89 130.70 96.40" fill="none" stroke="#000" stroke-opacity="0.09" stroke-width="1.0" filter="url(#b03)"/>
<path d="M116.90 99.60C118.33 98.92 119.48 98.80 120.92 98.80H126.68C128.12 98.80 129.27 98.92 130.70 99.60" fill="none" stroke="#000" stroke-opacity="0.09" stroke-width="1.0" filter="url(#b03)"/>
<path d="M116.90 102.80C118.33 101.95 119.48 101.80 120.92 101.80H126.68C128.12 101.80 129.27 101.95 130.70 102.80" fill="none" stroke="#000" stroke-opacity="0.11" stroke-width="1.0" filter="url(#b03)"/>
<path d="M116.90 106.20C118.33 105.18 119.48 105.00 120.92 105.00H126.68C128.12 105.00 129.27 105.18 130.70 106.20" fill="none" stroke="#000" stroke-opacity="0.19" stroke-width="1.4" filter="url(#b03)"/>
<path d="M116.90 108.90C118.33 107.62 119.48 107.40 120.92 107.40H126.68C128.12 107.40 129.27 107.62 130.70 108.90" fill="none" stroke="#000" stroke-opacity="0.46" stroke-width="2.2" filter="url(#b03)"/>
<path d="M116.90 111.40C118.33 110.04 119.48 109.80 120.92 109.80H126.68C128.12 109.80 129.27 110.04 130.70 111.40" fill="none" stroke="#000" stroke-opacity="0.30" stroke-width="1.6" filter="url(#b03)"/>
<path d="M116.90 114.60C118.33 113.07 119.48 112.80 120.92 112.80H126.68C128.12 112.80 129.27 113.07 130.70 114.60" fill="none" stroke="#000" stroke-opacity="0.15" stroke-width="1.3" filter="url(#b03)"/>
<path d="M116.90 120.60C118.33 118.73 119.48 118.40 120.92 118.40H126.68C128.12 118.40 129.27 118.73 130.70 120.60" fill="none" stroke="#000" stroke-opacity="0.34" stroke-width="2.0" filter="url(#b03)"/>
<path d="M116.90 124.00C118.33 122.13 119.48 121.80 120.92 121.80H126.68C128.12 121.80 129.27 122.13 130.70 124.00" fill="none" stroke="#000" stroke-opacity="0.11" stroke-width="1.0" filter="url(#b03)"/>
<path d="M116.90 126.60C118.33 124.56 119.48 124.20 120.92 124.20H126.68C128.12 124.20 129.27 124.56 130.70 126.60" fill="none" stroke="#000" stroke-opacity="0.14" stroke-width="1.2" filter="url(#b03)"/>
<path d="M116.90 132.00C118.33 129.79 119.48 129.40 120.92 129.40H126.68C128.12 129.40 129.27 129.79 130.70 132.00" fill="none" stroke="#000" stroke-opacity="0.34" stroke-width="2.4" filter="url(#b03)"/>
<path d="M116.90 134.70C118.33 133.43 119.48 133.20 120.92 133.20H126.68C128.12 133.20 129.27 133.43 130.70 134.70" fill="none" stroke="#000" stroke-opacity="0.23" stroke-width="1.4" filter="url(#b03)"/>
<rect x="134.80" y="90.2" width="14.80" height="44.10" fill="#afafaf" filter="url(#b03)"/>
<rect x="134.80" y="90.2" width="14.80" height="44.10" fill="url(#cg)" opacity="1.00"/>
<path d="M135.30 92.90C136.73 92.48 137.88 92.40 139.32 92.40H145.08C146.52 92.40 147.67 92.48 149.10 92.90" fill="none" stroke="#000" stroke-opacity="0.34" stroke-width="1.8" filter="url(#b03)"/>
<path d="M135.30 96.80C136.73 96.29 137.88 96.20 139.32 96.20H145.08C146.52 96.20 147.67 96.29 149.10 96.80" fill="none" stroke="#000" stroke-opacity="0.10" stroke-width="1.0" filter="url(#b03)"/>
<path d="M135.30 100.00C136.73 99.32 137.88 99.20 139.32 99.20H145.08C146.52 99.20 147.67 99.32 149.10 100.00" fill="none" stroke="#000" stroke-opacity="0.10" stroke-width="1.0" filter="url(#b03)"/>
<path d="M135.30 103.20C136.73 102.35 137.88 102.20 139.32 102.20H145.08C146.52 102.20 147.67 102.35 149.10 103.20" fill="none" stroke="#000" stroke-opacity="0.12" stroke-width="1.0" filter="url(#b03)"/>
<path d="M135.30 106.60C136.73 105.58 137.88 105.40 139.32 105.40H145.08C146.52 105.40 147.67 105.58 149.10 106.60" fill="none" stroke="#000" stroke-opacity="0.21" stroke-width="1.4" filter="url(#b03)"/>
<path d="M135.30 109.30C136.73 108.02 137.88 107.80 139.32 107.80H145.08C146.52 107.80 147.67 108.02 149.10 109.30" fill="none" stroke="#000" stroke-opacity="0.50" stroke-width="2.2" filter="url(#b03)"/>
<path d="M135.30 111.80C136.73 110.44 137.88 110.20 139.32 110.20H145.08C146.52 110.20 147.67 110.44 149.10 111.80" fill="none" stroke="#000" stroke-opacity="0.34" stroke-width="1.6" filter="url(#b03)"/>
<path d="M135.30 115.00C136.73 113.47 137.88 113.20 139.32 113.20H145.08C146.52 113.20 147.67 113.47 149.10 115.00" fill="none" stroke="#000" stroke-opacity="0.17" stroke-width="1.3" filter="url(#b03)"/>
<path d="M135.30 121.00C136.73 119.13 137.88 118.80 139.32 118.80H145.08C146.52 118.80 147.67 119.13 149.10 121.00" fill="none" stroke="#000" stroke-opacity="0.38" stroke-width="2.0" filter="url(#b03)"/>
<path d="M135.30 124.40C136.73 122.53 137.88 122.20 139.32 122.20H145.08C146.52 122.20 147.67 122.53 149.10 124.40" fill="none" stroke="#000" stroke-opacity="0.13" stroke-width="1.0" filter="url(#b03)"/>
<path d="M135.30 127.00C136.73 124.96 137.88 124.60 139.32 124.60H145.08C146.52 124.60 147.67 124.96 149.10 127.00" fill="none" stroke="#000" stroke-opacity="0.15" stroke-width="1.2" filter="url(#b03)"/>
<path d="M135.30 132.40C136.73 130.19 137.88 129.80 139.32 129.80H145.08C146.52 129.80 147.67 130.19 149.10 132.40" fill="none" stroke="#000" stroke-opacity="0.38" stroke-width="2.4" filter="url(#b03)"/>
<path d="M135.00 99H149.40" stroke="#000" stroke-opacity="0.25" stroke-width="0.8" stroke-dasharray="1.5,1"/>
<path d="M135.00 103H149.40" stroke="#000" stroke-opacity="0.25" stroke-width="0.8" stroke-dasharray="1.5,1"/>
<path d="M135.00 113H149.40" stroke="#000" stroke-opacity="0.25" stroke-width="0.8" stroke-dasharray="1.5,1"/>
<path d="M135.00 116H149.40" stroke="#000" stroke-opacity="0.25" stroke-width="0.8" stroke-dasharray="1.5,1"/>
<path d="M135.00 122H149.40" stroke="#000" stroke-opacity="0.25" stroke-width="0.8" stroke-dasharray="1.5,1"/>
<path d="M135.00 126H149.40" stroke="#000" stroke-opacity="0.25" stroke-width="0.8" stroke-dasharray="1.5,1"/>
<rect x="153.40" y="90.2" width="15.00" height="44.10" fill="#bababa" filter="url(#b03)"/>
<rect x="153.40" y="90.2" width="15.00" height="44.10" fill="url(#cg)" opacity="0.90"/>
<path d="M153.90 92.20C155.35 91.78 156.52 91.70 157.98 91.70H163.82C165.28 91.70 166.45 91.78 167.90 92.20" fill="none" stroke="#000" stroke-opacity="0.29" stroke-width="1.8" filter="url(#b03)"/>
<path d="M153.90 96.10C155.35 95.59 156.52 95.50 157.98 95.50H163.82C165.28 95.50 166.45 95.59 167.90 96.10" fill="none" stroke="#000" stroke-opacity="0.09" stroke-width="1.0" filter="url(#b03)"/>
<path d="M153.90 99.30C155.35 98.62 156.52 98.50 157.98 98.50H163.82C165.28 98.50 166.45 98.62 167.90 99.30" fill="none" stroke="#000" stroke-opacity="0.09" stroke-width="1.0" filter="url(#b03)"/>
<path d="M153.90 102.50C155.35 101.65 156.52 101.50 157.98 101.50H163.82C165.28 101.50 166.45 101.65 167.90 102.50" fill="none" stroke="#000" stroke-opacity="0.10" stroke-width="1.0" filter="url(#b03)"/>
<path d="M153.90 105.90C155.35 104.88 156.52 104.70 157.98 104.70H163.82C165.28 104.70 166.45 104.88 167.90 105.90" fill="none" stroke="#000" stroke-opacity="0.18" stroke-width="1.4" filter="url(#b03)"/>
<path d="M153.90 108.60C155.35 107.32 156.52 107.10 157.98 107.10H163.82C165.28 107.10 166.45 107.32 167.90 108.60" fill="none" stroke="#000" stroke-opacity="0.43" stroke-width="2.2" filter="url(#b03)"/>
<path d="M153.90 111.10C155.35 109.74 156.52 109.50 157.98 109.50H163.82C165.28 109.50 166.45 109.74 167.90 111.10" fill="none" stroke="#000" stroke-opacity="0.29" stroke-width="1.6" filter="url(#b03)"/>
<path d="M153.90 114.30C155.35 112.77 156.52 112.50 157.98 112.50H163.82C165.28 112.50 166.45 112.77 167.90 114.30" fill="none" stroke="#000" stroke-opacity="0.14" stroke-width="1.3" filter="url(#b03)"/>
<path d="M153.90 120.30C155.35 118.43 156.52 118.10 157.98 118.10H163.82C165.28 118.10 166.45 118.43 167.90 120.30" fill="none" stroke="#000" stroke-opacity="0.32" stroke-width="2.0" filter="url(#b03)"/>
<path d="M153.90 123.70C155.35 121.83 156.52 121.50 157.98 121.50H163.82C165.28 121.50 166.45 121.83 167.90 123.70" fill="none" stroke="#000" stroke-opacity="0.11" stroke-width="1.0" filter="url(#b03)"/>
<path d="M153.90 126.30C155.35 124.26 156.52 123.90 157.98 123.90H163.82C165.28 123.90 166.45 124.26 167.90 126.30" fill="none" stroke="#000" stroke-opacity="0.13" stroke-width="1.2" filter="url(#b03)"/>
<path d="M153.90 131.70C155.35 129.49 156.52 129.10 157.98 129.10H163.82C165.28 129.10 166.45 129.49 167.90 131.70" fill="none" stroke="#000" stroke-opacity="0.32" stroke-width="2.4" filter="url(#b03)"/>
<path d="M153.90 134.40C155.35 133.12 156.52 132.90 157.98 132.90H163.82C165.28 132.90 166.45 133.12 167.90 134.40" fill="none" stroke="#000" stroke-opacity="0.22" stroke-width="1.4" filter="url(#b03)"/>
<rect x="172.00" y="90.2" width="14.80" height="44.10" fill="#858585" filter="url(#b03)"/>
<rect x="172.00" y="90.2" width="14.80" height="44.10" fill="url(#cg)" opacity="1.00"/>
<path d="M172.50 91.70C173.93 91.28 175.08 91.20 176.52 91.20H182.28C183.72 91.20 184.87 91.28 186.30 91.70" fill="none" stroke="#000" stroke-opacity="0.51" stroke-width="1.8" filter="url(#b03)"/>
<path d="M172.50 95.60C173.93 95.09 175.08 95.00 176.52 95.00H182.28C183.72 95.00 184.87 95.09 186.30 95.60" fill="none" stroke="#000" stroke-opacity="0.15" stroke-width="1.0" filter="url(#b03)"/>
<path d="M172.50 98.80C173.93 98.12 175.08 98.00 176.52 98.00H182.28C183.72 98.00 184.87 98.12 186.30 98.80" fill="none" stroke="#000" stroke-opacity="0.15" stroke-width="1.0" filter="url(#b03)"/>
<path d="M172.50 102.00C173.93 101.15 175.08 101.00 176.52 101.00H182.28C183.72 101.00 184.87 101.15 186.30 102.00" fill="none" stroke="#000" stroke-opacity="0.18" stroke-width="1.0" filter="url(#b03)"/>
<path d="M172.50 105.40C173.93 104.38 175.08 104.20 176.52 104.20H182.28C183.72 104.20 184.87 104.38 186.30 105.40" fill="none" stroke="#000" stroke-opacity="0.32" stroke-width="1.4" filter="url(#b03)"/>
<path d="M172.50 108.10C173.93 106.82 175.08 106.60 176.52 106.60H182.28C183.72 106.60 184.87 106.82 186.30 108.10" fill="none" stroke="#000" stroke-opacity="0.77" stroke-width="2.2" filter="url(#b03)"/>
<path d="M172.50 110.60C173.93 109.24 175.08 109.00 176.52 109.00H182.28C183.72 109.00 184.87 109.24 186.30 110.60" fill="none" stroke="#000" stroke-opacity="0.51" stroke-width="1.6" filter="url(#b03)"/>
<path d="M172.50 113.80C173.93 112.27 175.08 112.00 176.52 112.00H182.28C183.72 112.00 184.87 112.27 186.30 113.80" fill="none" stroke="#000" stroke-opacity="0.26" stroke-width="1.3" filter="url(#b03)"/>
<path d="M172.50 119.80C173.93 117.93 175.08 117.60 176.52 117.60H182.28C183.72 117.60 184.87 117.93 186.30 119.80" fill="none" stroke="#000" stroke-opacity="0.58" stroke-width="2.0" filter="url(#b03)"/>
<path d="M172.50 123.20C173.93 121.33 175.08 121.00 176.52 121.00H182.28C183.72 121.00 184.87 121.33 186.30 123.20" fill="none" stroke="#000" stroke-opacity="0.19" stroke-width="1.0" filter="url(#b03)"/>
<path d="M172.50 125.80C173.93 123.76 175.08 123.40 176.52 123.40H182.28C183.72 123.40 184.87 123.76 186.30 125.80" fill="none" stroke="#000" stroke-opacity="0.23" stroke-width="1.2" filter="url(#b03)"/>
<path d="M172.50 131.20C173.93 128.99 175.08 128.60 176.52 128.60H182.28C183.72 128.60 184.87 128.99 186.30 131.20" fill="none" stroke="#000" stroke-opacity="0.58" stroke-width="2.4" filter="url(#b03)"/>
<path d="M172.50 133.90C173.93 132.62 175.08 132.40 176.52 132.40H182.28C183.72 132.40 184.87 132.62 186.30 133.90" fill="none" stroke="#000" stroke-opacity="0.38" stroke-width="1.4" filter="url(#b03)"/>
<rect x="172.20" y="124" width="14.40" height="10" fill="#000" opacity="0.6" filter="url(#b1)"/>
<rect x="172.20" y="100" width="14.40" height="12" fill="#000" opacity="0.3" filter="url(#b1)"/>
<rect x="190.60" y="90.2" width="15.20" height="44.10" fill="#bebebe" filter="url(#b03)"/>
<rect x="190.60" y="90.2" width="15.20" height="44.10" fill="url(#cg)" opacity="0.85"/>
<path d="M191.10 92.20C192.58 91.78 193.76 91.70 195.24 91.70H201.16C202.64 91.70 203.82 91.78 205.30 92.20" fill="none" stroke="#000" stroke-opacity="0.27" stroke-width="1.8" filter="url(#b03)"/>
<path d="M191.10 96.10C192.58 95.59 193.76 95.50 195.24 95.50H201.16C202.64 95.50 203.82 95.59 205.30 96.10" fill="none" stroke="#000" stroke-opacity="0.08" stroke-width="1.0" filter="url(#b03)"/>
<path d="M191.10 99.30C192.58 98.62 193.76 98.50 195.24 98.50H201.16C202.64 98.50 203.82 98.62 205.30 99.30" fill="none" stroke="#000" stroke-opacity="0.08" stroke-width="1.0" filter="url(#b03)"/>
<path d="M191.10 102.50C192.58 101.65 193.76 101.50 195.24 101.50H201.16C202.64 101.50 203.82 101.65 205.30 102.50" fill="none" stroke="#000" stroke-opacity="0.10" stroke-width="1.0" filter="url(#b03)"/>
<path d="M191.10 105.90C192.58 104.88 193.76 104.70 195.24 104.70H201.16C202.64 104.70 203.82 104.88 205.30 105.90" fill="none" stroke="#000" stroke-opacity="0.17" stroke-width="1.4" filter="url(#b03)"/>
<path d="M191.10 108.60C192.58 107.32 193.76 107.10 195.24 107.10H201.16C202.64 107.10 203.82 107.32 205.30 108.60" fill="none" stroke="#000" stroke-opacity="0.41" stroke-width="2.2" filter="url(#b03)"/>
<path d="M191.10 111.10C192.58 109.74 193.76 109.50 195.24 109.50H201.16C202.64 109.50 203.82 109.74 205.30 111.10" fill="none" stroke="#000" stroke-opacity="0.27" stroke-width="1.6" filter="url(#b03)"/>
<path d="M191.10 114.30C192.58 112.77 193.76 112.50 195.24 112.50H201.16C202.64 112.50 203.82 112.77 205.30 114.30" fill="none" stroke="#000" stroke-opacity="0.14" stroke-width="1.3" filter="url(#b03)"/>
<path d="M191.10 120.30C192.58 118.43 193.76 118.10 195.24 118.10H201.16C202.64 118.10 203.82 118.43 205.30 120.30" fill="none" stroke="#000" stroke-opacity="0.31" stroke-width="2.0" filter="url(#b03)"/>
<path d="M191.10 123.70C192.58 121.83 193.76 121.50 195.24 121.50H201.16C202.64 121.50 203.82 121.83 205.30 123.70" fill="none" stroke="#000" stroke-opacity="0.10" stroke-width="1.0" filter="url(#b03)"/>
<path d="M191.10 126.30C192.58 124.26 193.76 123.90 195.24 123.90H201.16C202.64 123.90 203.82 124.26 205.30 126.30" fill="none" stroke="#000" stroke-opacity="0.12" stroke-width="1.2" filter="url(#b03)"/>
<path d="M191.10 131.70C192.58 129.49 193.76 129.10 195.24 129.10H201.16C202.64 129.10 203.82 129.49 205.30 131.70" fill="none" stroke="#000" stroke-opacity="0.31" stroke-width="2.4" filter="url(#b03)"/>
<path d="M191.10 134.40C192.58 133.12 193.76 132.90 195.24 132.90H201.16C202.64 132.90 203.82 133.12 205.30 134.40" fill="none" stroke="#000" stroke-opacity="0.20" stroke-width="1.4" filter="url(#b03)"/>
<rect x="212.60" y="90.2" width="17.00" height="44.10" fill="#d1d1d1" filter="url(#b03)"/>
<rect x="212.60" y="90.2" width="17.00" height="44.10" fill="url(#cg)" opacity="0.60"/>
<path d="M213.10 94.30C214.79 93.88 216.12 93.80 217.78 93.80H224.42C226.08 93.80 227.41 93.88 229.10 94.30" fill="none" stroke="#000" stroke-opacity="0.19" stroke-width="1.8" filter="url(#b03)"/>
<path d="M213.10 98.20C214.79 97.69 216.12 97.60 217.78 97.60H224.42C226.08 97.60 227.41 97.69 229.10 98.20" fill="none" stroke="#000" stroke-opacity="0.06" stroke-width="1.0" filter="url(#b03)"/>
<path d="M213.10 101.40C214.79 100.72 216.12 100.60 217.78 100.60H224.42C226.08 100.60 227.41 100.72 229.10 101.40" fill="none" stroke="#000" stroke-opacity="0.06" stroke-width="1.0" filter="url(#b03)"/>
<path d="M213.10 104.60C214.79 103.75 216.12 103.60 217.78 103.60H224.42C226.08 103.60 227.41 103.75 229.10 104.60" fill="none" stroke="#000" stroke-opacity="0.07" stroke-width="1.0" filter="url(#b03)"/>
<path d="M213.10 108.00C214.79 106.98 216.12 106.80 217.78 106.80H224.42C226.08 106.80 227.41 106.98 229.10 108.00" fill="none" stroke="#000" stroke-opacity="0.12" stroke-width="1.4" filter="url(#b03)"/>
<path d="M213.10 110.70C214.79 109.42 216.12 109.20 217.78 109.20H224.42C226.08 109.20 227.41 109.42 229.10 110.70" fill="none" stroke="#000" stroke-opacity="0.29" stroke-width="2.2" filter="url(#b03)"/>
<path d="M213.10 113.20C214.79 111.84 216.12 111.60 217.78 111.60H224.42C226.08 111.60 227.41 111.84 229.10 113.20" fill="none" stroke="#000" stroke-opacity="0.19" stroke-width="1.6" filter="url(#b03)"/>
<path d="M213.10 116.40C214.79 114.87 216.12 114.60 217.78 114.60H224.42C226.08 114.60 227.41 114.87 229.10 116.40" fill="none" stroke="#000" stroke-opacity="0.10" stroke-width="1.3" filter="url(#b03)"/>
<path d="M213.10 122.40C214.79 120.53 216.12 120.20 217.78 120.20H224.42C226.08 120.20 227.41 120.53 229.10 122.40" fill="none" stroke="#000" stroke-opacity="0.22" stroke-width="2.0" filter="url(#b03)"/>
<path d="M213.10 125.80C214.79 123.93 216.12 123.60 217.78 123.60H224.42C226.08 123.60 227.41 123.93 229.10 125.80" fill="none" stroke="#000" stroke-opacity="0.07" stroke-width="1.0" filter="url(#b03)"/>
<path d="M213.10 128.40C214.79 126.36 216.12 126.00 217.78 126.00H224.42C226.08 126.00 227.41 126.36 229.10 128.40" fill="none" stroke="#000" stroke-opacity="0.09" stroke-width="1.2" filter="url(#b03)"/>
<path d="M213.10 133.80C214.79 131.59 216.12 131.20 217.78 131.20H224.42C226.08 131.20 227.41 131.59 229.10 133.80" fill="none" stroke="#000" stroke-opacity="0.22" stroke-width="2.4" filter="url(#b03)"/>
<rect x="234.40" y="90.2" width="17.40" height="44.10" fill="#dfdfdf" filter="url(#b03)"/>
<rect x="234.40" y="90.2" width="17.40" height="44.10" fill="url(#cg)" opacity="0.42"/>
<path d="M234.90 93.70C236.64 93.28 238.00 93.20 239.70 93.20H246.50C248.20 93.20 249.56 93.28 251.30 93.70" fill="none" stroke="#000" stroke-opacity="0.13" stroke-width="1.8" filter="url(#b03)"/>
<path d="M234.90 97.60C236.64 97.09 238.00 97.00 239.70 97.00H246.50C248.20 97.00 249.56 97.09 251.30 97.60" fill="none" stroke="#000" stroke-opacity="0.04" stroke-width="1.0" filter="url(#b03)"/>
<path d="M234.90 100.80C236.64 100.12 238.00 100.00 239.70 100.00H246.50C248.20 100.00 249.56 100.12 251.30 100.80" fill="none" stroke="#000" stroke-opacity="0.04" stroke-width="1.0" filter="url(#b03)"/>
<path d="M234.90 104.00C236.64 103.15 238.00 103.00 239.70 103.00H246.50C248.20 103.00 249.56 103.15 251.30 104.00" fill="none" stroke="#000" stroke-opacity="0.05" stroke-width="1.0" filter="url(#b03)"/>
<path d="M234.90 107.40C236.64 106.38 238.00 106.20 239.70 106.20H246.50C248.20 106.20 249.56 106.38 251.30 107.40" fill="none" stroke="#000" stroke-opacity="0.08" stroke-width="1.4" filter="url(#b03)"/>
<path d="M234.90 110.10C236.64 108.82 238.00 108.60 239.70 108.60H246.50C248.20 108.60 249.56 108.82 251.30 110.10" fill="none" stroke="#000" stroke-opacity="0.20" stroke-width="2.2" filter="url(#b03)"/>
<path d="M234.90 112.60C236.64 111.24 238.00 111.00 239.70 111.00H246.50C248.20 111.00 249.56 111.24 251.30 112.60" fill="none" stroke="#000" stroke-opacity="0.13" stroke-width="1.6" filter="url(#b03)"/>
<path d="M234.90 115.80C236.64 114.27 238.00 114.00 239.70 114.00H246.50C248.20 114.00 249.56 114.27 251.30 115.80" fill="none" stroke="#000" stroke-opacity="0.07" stroke-width="1.3" filter="url(#b03)"/>
<path d="M234.90 121.80C236.64 119.93 238.00 119.60 239.70 119.60H246.50C248.20 119.60 249.56 119.93 251.30 121.80" fill="none" stroke="#000" stroke-opacity="0.15" stroke-width="2.0" filter="url(#b03)"/>
<path d="M234.90 125.20C236.64 123.33 238.00 123.00 239.70 123.00H246.50C248.20 123.00 249.56 123.33 251.30 125.20" fill="none" stroke="#000" stroke-opacity="0.05" stroke-width="1.0" filter="url(#b03)"/>
<path d="M234.90 127.80C236.64 125.76 238.00 125.40 239.70 125.40H246.50C248.20 125.40 249.56 125.76 251.30 127.80" fill="none" stroke="#000" stroke-opacity="0.06" stroke-width="1.2" filter="url(#b03)"/>
<path d="M234.90 133.20C236.64 130.99 238.00 130.60 239.70 130.60H246.50C248.20 130.60 249.56 130.99 251.30 133.20" fill="none" stroke="#000" stroke-opacity="0.15" stroke-width="2.4" filter="url(#b03)"/>
<rect x="38.6" y="25.5" width="216.0" height="109.4" fill="none" stroke="#2a2a2a" stroke-width="1.1"/>
<line x1="38.6" y1="53.7" x2="254.6" y2="53.7" stroke="#222" stroke-width="1.5"/>
<line x1="38.6" y1="88.4" x2="254.6" y2="88.4" stroke="#222" stroke-width="1.5"/>
<line x1="96.2" y1="25.5" x2="96.2" y2="134.9" stroke="#000" stroke-width="1.0" stroke-dasharray="0.9,0.9"/>
<line x1="209.5" y1="25.5" x2="209.5" y2="134.9" stroke="#000" stroke-width="1.0" stroke-dasharray="0.9,0.9"/>
<text x="34.8" y="37.3" font-size="9.6" text-anchor="end" fill="#111" stroke="#111" stroke-width="0.14" textLength="13.0" lengthAdjust="spacingAndGlyphs">β1c</text>
<text x="34.8" y="50.3" font-size="9.6" text-anchor="end" fill="#111" stroke="#111" stroke-width="0.14" textLength="10.5" lengthAdjust="spacingAndGlyphs">β1i</text>
<text x="34.8" y="71.2" font-size="9.6" text-anchor="end" fill="#111" stroke="#111" stroke-width="0.14" textLength="10.5" lengthAdjust="spacingAndGlyphs">β5i</text>
<text x="34.8" y="83.6" font-size="9.6" text-anchor="end" fill="#111" stroke="#111" stroke-width="0.14" textLength="13.0" lengthAdjust="spacingAndGlyphs">β5c</text>
<text x="34.8" y="101.4" font-size="9.6" text-anchor="end" fill="#111" stroke="#111" stroke-width="0.14" textLength="12.5" lengthAdjust="spacingAndGlyphs">188</text>
<text x="34.8" y="113.2" font-size="9.6" text-anchor="end" fill="#111" stroke="#111" stroke-width="0.14" textLength="13.5" lengthAdjust="spacingAndGlyphs">kDa</text>
<text x="258.7" y="38.2" font-size="8.8" text-anchor="start" fill="#111" stroke="#111" stroke-width="0.14" textLength="29" lengthAdjust="spacingAndGlyphs">BODIPY-</text>
<text x="258.7" y="48.0" font-size="8.8" text-anchor="start" fill="#111" stroke="#111" stroke-width="0.14" textLength="25.6" lengthAdjust="spacingAndGlyphs">NC-001</text>
<text x="258.7" y="71.0" font-size="8.8" text-anchor="start" fill="#111" stroke="#111" stroke-width="0.14" textLength="29" lengthAdjust="spacingAndGlyphs">BODIPY-</text>
<text x="258.7" y="81.0" font-size="8.8" text-anchor="start" fill="#111" stroke="#111" stroke-width="0.14" textLength="37.5" lengthAdjust="spacingAndGlyphs">NC-005-VS</text>
<text x="258.7" y="113.8" font-size="8.8" text-anchor="start" fill="#111" stroke="#111" stroke-width="0.14" textLength="38" lengthAdjust="spacingAndGlyphs">Coomassie</text>
<text x="48.400000000000006" y="139.5" font-size="8.2" text-anchor="end" fill="#111" stroke="#111" stroke-width="0.14" textLength="17.5" lengthAdjust="spacingAndGlyphs" transform="rotate(-90 48.400000000000006 139.5)">H929</text>
<text x="67.5" y="139.5" font-size="8.2" text-anchor="end" fill="#111" stroke="#111" stroke-width="0.14" textLength="24" lengthAdjust="spacingAndGlyphs" transform="rotate(-90 67.5 139.5)">MM1.R</text>
<text x="83.5" y="139.5" font-size="8.2" text-anchor="end" fill="#111" stroke="#111" stroke-width="0.14" textLength="24" lengthAdjust="spacingAndGlyphs" transform="rotate(-90 83.5 139.5)">MM1.S</text>
<text x="104.7" y="139.5" font-size="8.2" text-anchor="end" fill="#111" stroke="#111" stroke-width="0.14" textLength="18.6" lengthAdjust="spacingAndGlyphs" transform="rotate(-90 104.7 139.5)">U266</text>
<text x="123.7" y="139.5" font-size="8.2" text-anchor="end" fill="#111" stroke="#111" stroke-width="0.14" textLength="27" lengthAdjust="spacingAndGlyphs" transform="rotate(-90 123.7 139.5)">KMS-11</text>
<text x="141.79999999999998" y="139.5" font-size="8.2" text-anchor="end" fill="#111" stroke="#111" stroke-width="0.14" textLength="27" lengthAdjust="spacingAndGlyphs" transform="rotate(-90 141.79999999999998 139.5)">KMS-18</text>
<text x="164.5" y="139.5" font-size="8.2" text-anchor="end" fill="#111" stroke="#111" stroke-width="0.14" textLength="36" lengthAdjust="spacingAndGlyphs" transform="rotate(-90 164.5 139.5)">KMS-21PE</text>
<text x="182.7" y="139.5" font-size="8.2" text-anchor="end" fill="#111" stroke="#111" stroke-width="0.14" textLength="36" lengthAdjust="spacingAndGlyphs" transform="rotate(-90 182.7 139.5)">RPMI-8226</text>
<text x="202.39999999999998" y="139.5" font-size="8.2" text-anchor="end" fill="#111" stroke="#111" stroke-width="0.14" textLength="14.4" lengthAdjust="spacingAndGlyphs" transform="rotate(-90 202.39999999999998 139.5)">LR5</text>
<text x="224.2" y="139.5" font-size="8.2" text-anchor="end" fill="#111" stroke="#111" stroke-width="0.14" textLength="15.3" lengthAdjust="spacingAndGlyphs" transform="rotate(-90 224.2 139.5)">LG2</text>
<text x="245.2" y="139.5" font-size="8.2" text-anchor="end" fill="#111" stroke="#111" stroke-width="0.14" textLength="17" lengthAdjust="spacingAndGlyphs" transform="rotate(-90 245.2 139.5)">HeLa</text>
<rect x="369.2" y="67.95" width="15.4" height="57.05" fill="#a5002f"/>
<rect x="391.8" y="59.72" width="15.4" height="65.28" fill="#a5002f"/>
<rect x="414.6" y="83.37" width="14.4" height="41.63" fill="#2d4c85"/>
<path d="M421.8 83.37V80.54M419.2 80.54H424.4" stroke="#111" stroke-width="0.9" fill="none"/>
<line x1="366.2" y1="44.5" x2="366.2" y2="125.6" stroke="#111" stroke-width="1.3"/>
<line x1="365.59999999999997" y1="125" x2="432.6" y2="125" stroke="#111" stroke-width="1.3"/>
<line x1="363.59999999999997" y1="125.00" x2="366.2" y2="125.00" stroke="#111" stroke-width="0.7"/>
<line x1="364.7" y1="119.86" x2="366.2" y2="119.86" stroke="#111" stroke-width="0.7"/>
<line x1="364.7" y1="114.72" x2="366.2" y2="114.72" stroke="#111" stroke-width="0.7"/>
<line x1="364.7" y1="109.58" x2="366.2" y2="109.58" stroke="#111" stroke-width="0.7"/>
<line x1="364.7" y1="104.44" x2="366.2" y2="104.44" stroke="#111" stroke-width="0.7"/>
<line x1="363.59999999999997" y1="99.30" x2="366.2" y2="99.30" stroke="#111" stroke-width="0.7"/>
<line x1="364.7" y1="94.16" x2="366.2" y2="94.16" stroke="#111" stroke-width="0.7"/>
<line x1="364.7" y1="89.02" x2="366.2" y2="89.02" stroke="#111" stroke-width="0.7"/>
<line x1="364.7" y1="83.88" x2="366.2" y2="83.88" stroke="#111" stroke-width="0.7"/>
<line x1="364.7" y1="78.74" x2="366.2" y2="78.74" stroke="#111" stroke-width="0.7"/>
<line x1="363.59999999999997" y1="73.60" x2="366.2" y2="73.60" stroke="#111" stroke-width="0.7"/>
<line x1="364.7" y1="68.46" x2="366.2" y2="68.46" stroke="#111" stroke-width="0.7"/>
<line x1="364.7" y1="63.32" x2="366.2" y2="63.32" stroke="#111" stroke-width="0.7"/>
<line x1="364.7" y1="58.18" x2="366.2" y2="58.18" stroke="#111" stroke-width="0.7"/>
<line x1="364.7" y1="53.04" x2="366.2" y2="53.04" stroke="#111" stroke-width="0.7"/>
<line x1="363.59999999999997" y1="47.90" x2="366.2" y2="47.90" stroke="#111" stroke-width="0.7"/>
<text x="360" y="127.8" font-size="7.8" text-anchor="end" fill="#111" stroke="#111" stroke-width="0.14" textLength="10.2" lengthAdjust="spacingAndGlyphs">0.0</text>
<text x="360" y="102.1" font-size="7.8" text-anchor="end" fill="#111" stroke="#111" stroke-width="0.14" textLength="10.2" lengthAdjust="spacingAndGlyphs">0.5</text>
<text x="360" y="76.39999999999999" font-size="7.8" text-anchor="end" fill="#111" stroke="#111" stroke-width="0.14" textLength="10.2" lengthAdjust="spacingAndGlyphs">1.0</text>
<text x="360" y="50.7" font-size="7.8" text-anchor="end" fill="#111" stroke="#111" stroke-width="0.14" textLength="10.2" lengthAdjust="spacingAndGlyphs">1.5</text>
<line x1="376.9" y1="125" x2="376.9" y2="127.6" stroke="#111" stroke-width="0.8"/>
<line x1="399.7" y1="125" x2="399.7" y2="127.6" stroke="#111" stroke-width="0.8"/>
<line x1="421.8" y1="125" x2="421.8" y2="127.6" stroke="#111" stroke-width="0.8"/>
<text x="380.0" y="134.4" font-size="7.6" text-anchor="end" fill="#111" stroke="#111" stroke-width="0.14" textLength="13.5" lengthAdjust="spacingAndGlyphs" transform="rotate(-45 380.0 134.4)">P31</text>
<text x="402.5" y="134.4" font-size="7.6" text-anchor="end" fill="#111" stroke="#111" stroke-width="0.14" textLength="13.5" lengthAdjust="spacingAndGlyphs" transform="rotate(-45 402.5 134.4)">P33</text>
<text x="425.2" y="135.0" font-size="7.6" text-anchor="end" fill="#111" stroke="#111" stroke-width="0.14" textLength="24" lengthAdjust="spacingAndGlyphs" transform="rotate(-45 425.2 135.0)">MM1.S</text>
<text x="341.8" y="84.5" font-size="9.6" text-anchor="middle" fill="#111" stroke="#111" stroke-width="0.14" textLength="73.5" lengthAdjust="spacingAndGlyphs" transform="rotate(-90 341.8 84.5)">Sp. activity (ratio)</text>
<text x="400.1" y="41.6" font-size="7" text-anchor="middle" fill="#111" stroke="#111" stroke-width="0.14" textLength="36.5" lengthAdjust="spacingAndGlyphs">ANW (β5i)/</text>
<text x="399.6" y="51.5" font-size="7" text-anchor="middle" fill="#111" stroke="#111" stroke-width="0.14" textLength="47" lengthAdjust="spacingAndGlyphs">LLVY(β5i+β5c)</text>
<rect x="54.1" y="262.6" width="22.2" height="5" fill="#000"/>
<line x1="76" y1="265.1" x2="140.6" y2="265.1" stroke="#555" stroke-width="1"/>
<text x="55.6" y="257.7" font-size="8.2" text-anchor="start" fill="#111" stroke="#111" stroke-width="0.14" textLength="18.6" lengthAdjust="spacingAndGlyphs">Inhib</text>
<text x="97.5" y="257.7" font-size="8.2" text-anchor="start" fill="#111" stroke="#111" stroke-width="0.14" textLength="22" lengthAdjust="spacingAndGlyphs">Media</text>
<text x="54.5" y="278.8" font-size="8.2" text-anchor="middle" fill="#111" stroke="#111" stroke-width="0.14" textLength="4.2" lengthAdjust="spacingAndGlyphs">0</text>
<text x="81" y="278.8" font-size="8.2" text-anchor="middle" fill="#111" stroke="#111" stroke-width="0.14" textLength="8.5" lengthAdjust="spacingAndGlyphs">1h</text>
<text x="132.2" y="278.8" font-size="8.2" text-anchor="middle" fill="#111" stroke="#111" stroke-width="0.14" textLength="11.6" lengthAdjust="spacingAndGlyphs">48h</text>
<path d="M80 283.5V291.5" stroke="#111" stroke-width="0.9"/>
<path d="M78.3 289L80 292.8L81.7 289Z" fill="#111"/>
<path d="M133.9 283.5V291.5" stroke="#111" stroke-width="0.9"/>
<path d="M132.20000000000002 289L133.9 292.8L135.6 289Z" fill="#111"/>
<text x="80.5" y="303.3" font-size="8.2" text-anchor="middle" fill="#111" stroke="#111" stroke-width="0.14" textLength="25.4" lengthAdjust="spacingAndGlyphs">activity</text>
<text x="134.1" y="303.3" font-size="8.2" text-anchor="middle" fill="#111" stroke="#111" stroke-width="0.14" textLength="28.2" lengthAdjust="spacingAndGlyphs">viability</text>
<line x1="144.80" y1="325" x2="144.80" y2="415.1" stroke="#222" stroke-width="0.9" stroke-dasharray="1,1.1"/>
<line x1="55.4" y1="323.4" x2="55.4" y2="415.70000000000005" stroke="#111" stroke-width="1.3"/>
<line x1="54.8" y1="415.1" x2="192.8" y2="415.1" stroke="#111" stroke-width="1.3"/>
<line x1="52.8" y1="415.10" x2="55.4" y2="415.10" stroke="#111" stroke-width="0.8"/>
<line x1="53.8" y1="400.37" x2="55.4" y2="400.37" stroke="#111" stroke-width="0.8"/>
<line x1="52.8" y1="385.63" x2="55.4" y2="385.63" stroke="#111" stroke-width="0.8"/>
<line x1="53.8" y1="370.90" x2="55.4" y2="370.90" stroke="#111" stroke-width="0.8"/>
<line x1="52.8" y1="356.17" x2="55.4" y2="356.17" stroke="#111" stroke-width="0.8"/>
<line x1="53.8" y1="341.44" x2="55.4" y2="341.44" stroke="#111" stroke-width="0.8"/>
<line x1="52.8" y1="326.71" x2="55.4" y2="326.71" stroke="#111" stroke-width="0.8"/>
<text x="49.9" y="418.1" font-size="8.3" text-anchor="end" fill="#111" stroke="#111" stroke-width="0.14" textLength="4.38479921875" lengthAdjust="spacingAndGlyphs">0</text>
<text x="49.9" y="388.635" font-size="8.3" text-anchor="end" fill="#111" stroke="#111" stroke-width="0.14" textLength="8.7695984375" lengthAdjust="spacingAndGlyphs">50</text>
<text x="49.9" y="359.17" font-size="8.3" text-anchor="end" fill="#111" stroke="#111" stroke-width="0.14" textLength="13.15439765625" lengthAdjust="spacingAndGlyphs">100</text>
<text x="49.9" y="329.70500000000004" font-size="8.3" text-anchor="end" fill="#111" stroke="#111" stroke-width="0.14" textLength="13.15439765625" lengthAdjust="spacingAndGlyphs">150</text>
<line x1="55.40" y1="415.1" x2="55.40" y2="417.70000000000005" stroke="#111" stroke-width="0.7"/>
<line x1="68.86" y1="415.1" x2="68.86" y2="416.6" stroke="#111" stroke-width="0.7"/>
<line x1="76.73" y1="415.1" x2="76.73" y2="416.6" stroke="#111" stroke-width="0.7"/>
<line x1="82.31" y1="415.1" x2="82.31" y2="416.6" stroke="#111" stroke-width="0.7"/>
<line x1="86.64" y1="415.1" x2="86.64" y2="416.6" stroke="#111" stroke-width="0.7"/>
<line x1="90.18" y1="415.1" x2="90.18" y2="416.6" stroke="#111" stroke-width="0.7"/>
<line x1="93.18" y1="415.1" x2="93.18" y2="416.6" stroke="#111" stroke-width="0.7"/>
<line x1="95.77" y1="415.1" x2="95.77" y2="416.6" stroke="#111" stroke-width="0.7"/>
<line x1="98.05" y1="415.1" x2="98.05" y2="416.6" stroke="#111" stroke-width="0.7"/>
<line x1="100.10" y1="415.1" x2="100.10" y2="417.70000000000005" stroke="#111" stroke-width="0.7"/>
<line x1="113.56" y1="415.1" x2="113.56" y2="416.6" stroke="#111" stroke-width="0.7"/>
<line x1="121.43" y1="415.1" x2="121.43" y2="416.6" stroke="#111" stroke-width="0.7"/>
<line x1="127.01" y1="415.1" x2="127.01" y2="416.6" stroke="#111" stroke-width="0.7"/>
<line x1="131.34" y1="415.1" x2="131.34" y2="416.6" stroke="#111" stroke-width="0.7"/>
<line x1="134.88" y1="415.1" x2="134.88" y2="416.6" stroke="#111" stroke-width="0.7"/>
<line x1="137.88" y1="415.1" x2="137.88" y2="416.6" stroke="#111" stroke-width="0.7"/>
<line x1="140.47" y1="415.1" x2="140.47" y2="416.6" stroke="#111" stroke-width="0.7"/>
<line x1="142.75" y1="415.1" x2="142.75" y2="416.6" stroke="#111" stroke-width="0.7"/>
<line x1="144.80" y1="415.1" x2="144.80" y2="417.70000000000005" stroke="#111" stroke-width="0.7"/>
<line x1="158.26" y1="415.1" x2="158.26" y2="416.6" stroke="#111" stroke-width="0.7"/>
<line x1="166.13" y1="415.1" x2="166.13" y2="416.6" stroke="#111" stroke-width="0.7"/>
<line x1="171.71" y1="415.1" x2="171.71" y2="416.6" stroke="#111" stroke-width="0.7"/>
<line x1="176.04" y1="415.1" x2="176.04" y2="416.6" stroke="#111" stroke-width="0.7"/>
<line x1="179.58" y1="415.1" x2="179.58" y2="416.6" stroke="#111" stroke-width="0.7"/>
<line x1="182.58" y1="415.1" x2="182.58" y2="416.6" stroke="#111" stroke-width="0.7"/>
<line x1="185.17" y1="415.1" x2="185.17" y2="416.6" stroke="#111" stroke-width="0.7"/>
<line x1="187.45" y1="415.1" x2="187.45" y2="416.6" stroke="#111" stroke-width="0.7"/>
<line x1="189.50" y1="415.1" x2="189.50" y2="417.70000000000005" stroke="#111" stroke-width="0.7"/>
<text x="55.4" y="428.6" font-size="8.3" text-anchor="middle" fill="#111" stroke="#111" stroke-width="0.14" textLength="8.308040625" lengthAdjust="spacingAndGlyphs">10</text>
<text x="100.1" y="428.6" font-size="8.3" text-anchor="middle" fill="#111" stroke="#111" stroke-width="0.14" textLength="12.4620609375" lengthAdjust="spacingAndGlyphs">100</text>
<text x="144.8" y="428.6" font-size="8.3" text-anchor="middle" fill="#111" stroke="#111" stroke-width="0.14" textLength="16.61608125" lengthAdjust="spacingAndGlyphs">1000</text>
<text x="189.5" y="428.6" font-size="8.3" text-anchor="middle" fill="#111" stroke="#111" stroke-width="0.14" textLength="20.7701015625" lengthAdjust="spacingAndGlyphs">10000</text>
<path d="M57.43 354.40L78.75 354.99L100.10 356.17L121.43 357.35L142.75 356.76L164.08 376.21L185.41 399.78" fill="none" stroke="#5aab3c" stroke-width="1.6" stroke-linejoin="round"/>
<circle cx="57.43" cy="354.40" r="2.46" fill="#fff" stroke="#5aab3c" stroke-width="1"/>
<circle cx="78.75" cy="354.99" r="2.46" fill="#fff" stroke="#5aab3c" stroke-width="1"/>
<circle cx="100.10" cy="356.17" r="2.46" fill="#fff" stroke="#5aab3c" stroke-width="1"/>
<circle cx="121.43" cy="357.35" r="2.46" fill="#fff" stroke="#5aab3c" stroke-width="1"/>
<circle cx="142.75" cy="356.76" r="2.46" fill="#fff" stroke="#5aab3c" stroke-width="1"/>
<circle cx="164.08" cy="376.21" r="2.46" fill="#fff" stroke="#5aab3c" stroke-width="1"/>
<circle cx="185.41" cy="399.78" r="2.46" fill="#fff" stroke="#5aab3c" stroke-width="1"/>
<path d="M57.43 353.81L78.75 354.40L100.10 354.40L121.43 352.63L142.75 354.40L164.08 375.62L185.41 409.21" fill="none" stroke="#d3148b" stroke-width="1.6" stroke-linejoin="round"/>
<path d="M57.43 357.00L60.62 351.58L54.24 351.58Z" fill="#d3148b"/>
<path d="M78.75 357.59L81.94 352.17L75.56 352.17Z" fill="#d3148b"/>
<path d="M100.10 357.59L103.29 352.17L96.91 352.17Z" fill="#d3148b"/>
<path d="M121.43 355.82L124.62 350.40L118.24 350.40Z" fill="#d3148b"/>
<path d="M142.75 357.59L145.94 352.17L139.56 352.17Z" fill="#d3148b"/>
<path d="M164.08 378.81L167.27 373.38L160.89 373.38Z" fill="#d3148b"/>
<path d="M185.41 412.40L188.60 406.97L182.22 406.97Z" fill="#d3148b"/>
<path d="M57.43 354.99L78.75 356.17L100.10 357.94L121.43 356.17L142.75 356.17L164.08 364.42L185.41 405.67" fill="none" stroke="#e3961f" stroke-width="1.6" stroke-linejoin="round"/>
<path d="M57.43 351.51L60.91 354.99L57.43 358.47L53.95 354.99Z" fill="#e3961f"/>
<path d="M78.75 352.69L82.23 356.17L78.75 359.65L75.27 356.17Z" fill="#e3961f"/>
<path d="M100.10 354.46L103.58 357.94L100.10 361.42L96.62 357.94Z" fill="#e3961f"/>
<path d="M121.43 352.69L124.91 356.17L121.43 359.65L117.95 356.17Z" fill="#e3961f"/>
<path d="M142.75 352.69L146.23 356.17L142.75 359.65L139.27 356.17Z" fill="#e3961f"/>
<path d="M164.08 360.94L167.56 364.42L164.08 367.90L160.60 364.42Z" fill="#e3961f"/>
<path d="M185.41 402.19L188.89 405.67L185.41 409.15L181.93 405.67Z" fill="#e3961f"/>
<path d="M57.43 351.46L78.75 351.46L100.10 353.22L121.43 362.06L142.75 382.69L164.08 410.39L185.41 413.33" fill="none" stroke="#3f4a63" stroke-width="1.6" stroke-linejoin="round"/>
<path d="M142.75 374.44V390.94M140.75 374.44H144.75M140.75 390.94H144.75" stroke="#3f4a63" stroke-width="0.9" fill="none"/>
<circle cx="57.43" cy="351.46" r="2.75" fill="#3f4a63"/>
<circle cx="78.75" cy="351.46" r="2.75" fill="#3f4a63"/>
<circle cx="100.10" cy="353.22" r="2.75" fill="#3f4a63"/>
<circle cx="121.43" cy="362.06" r="2.75" fill="#3f4a63"/>
<circle cx="142.75" cy="382.69" r="2.75" fill="#3f4a63"/>
<circle cx="164.08" cy="410.39" r="2.75" fill="#3f4a63"/>
<circle cx="185.41" cy="413.33" r="2.75" fill="#3f4a63"/>
<path d="M57.43 354.99L78.75 354.99L100.10 359.12L121.43 360.30L142.75 392.12L164.08 413.92L185.41 413.92" fill="none" stroke="#ad0d3a" stroke-width="1.6" stroke-linejoin="round"/>
<rect x="54.82" y="352.38" width="5.22" height="5.22" fill="#ad0d3a"/>
<rect x="76.14" y="352.38" width="5.22" height="5.22" fill="#ad0d3a"/>
<rect x="97.49" y="356.51" width="5.22" height="5.22" fill="#ad0d3a"/>
<rect x="118.82" y="357.69" width="5.22" height="5.22" fill="#ad0d3a"/>
<rect x="140.14" y="389.51" width="5.22" height="5.22" fill="#ad0d3a"/>
<rect x="161.47" y="411.31" width="5.22" height="5.22" fill="#ad0d3a"/>
<rect x="182.80" y="411.31" width="5.22" height="5.22" fill="#ad0d3a"/>
<path d="M57.43 353.22L78.75 353.81L100.10 351.46L121.43 367.96L142.75 412.15L164.08 413.92L185.41 413.92" fill="none" stroke="#1f4a8a" stroke-width="1.6" stroke-linejoin="round"/>
<path d="M57.43 349.89L60.76 355.72L54.09 355.72Z" fill="#1f4a8a"/>
<path d="M78.75 350.48L82.09 356.31L75.42 356.31Z" fill="#1f4a8a"/>
<path d="M100.10 348.12L103.43 353.96L96.77 353.96Z" fill="#1f4a8a"/>
<path d="M121.43 364.62L124.76 370.46L118.09 370.46Z" fill="#1f4a8a"/>
<path d="M142.75 408.82L146.09 414.65L139.42 414.65Z" fill="#1f4a8a"/>
<path d="M164.08 410.59L167.42 416.42L160.75 416.42Z" fill="#1f4a8a"/>
<path d="M185.41 410.59L188.74 416.42L182.07 416.42Z" fill="#1f4a8a"/>
<text x="27.8" y="369.6" font-size="9.6" text-anchor="middle" fill="#111" stroke="#111" stroke-width="0.14" textLength="95.8" lengthAdjust="spacingAndGlyphs" transform="rotate(-90 27.8 369.6)">Viable cells (% control)</text>
<line x1="60.3" y1="327.2" x2="70.89999999999999" y2="327.2" stroke="#3f4a63" stroke-width="1.4"/>
<circle cx="65.60" cy="327.20" r="2.66" fill="#3f4a63"/>
<text x="74.19999999999999" y="330.09999999999997" font-size="8.0" text-anchor="start" fill="#111" stroke="#111" stroke-width="0.14" textLength="22" lengthAdjust="spacingAndGlyphs">MM1.S</text>
<line x1="60.3" y1="336.8" x2="70.89999999999999" y2="336.8" stroke="#5aab3c" stroke-width="1.4"/>
<circle cx="65.60" cy="336.80" r="2.38" fill="#fff" stroke="#5aab3c" stroke-width="1"/>
<text x="74.19999999999999" y="339.7" font-size="8.0" text-anchor="start" fill="#111" stroke="#111" stroke-width="0.14" textLength="24" lengthAdjust="spacingAndGlyphs">KMS-11</text>
<line x1="60.3" y1="381.2" x2="70.89999999999999" y2="381.2" stroke="#e3961f" stroke-width="1.4"/>
<path d="M65.60 377.84L68.96 381.20L65.60 384.56L62.24 381.20Z" fill="#e3961f"/>
<text x="74.19999999999999" y="384.09999999999997" font-size="8.0" text-anchor="start" fill="#111" stroke="#111" stroke-width="0.14" textLength="13" lengthAdjust="spacingAndGlyphs">LR5</text>
<line x1="60.3" y1="389.9" x2="70.89999999999999" y2="389.9" stroke="#d3148b" stroke-width="1.4"/>
<path d="M65.60 392.98L68.68 387.74L62.52 387.74Z" fill="#d3148b"/>
<text x="74.19999999999999" y="392.79999999999995" font-size="8.0" text-anchor="start" fill="#111" stroke="#111" stroke-width="0.14" textLength="34" lengthAdjust="spacingAndGlyphs">RPMI-8226</text>
<line x1="60.3" y1="399.8" x2="70.89999999999999" y2="399.8" stroke="#ad0d3a" stroke-width="1.4"/>
<rect x="63.08" y="397.28" width="5.04" height="5.04" fill="#ad0d3a"/>
<text x="74.19999999999999" y="402.7" font-size="8.0" text-anchor="start" fill="#111" stroke="#111" stroke-width="0.14" textLength="22.5" lengthAdjust="spacingAndGlyphs">MM1.R</text>
<line x1="60.3" y1="409.1" x2="70.89999999999999" y2="409.1" stroke="#1f4a8a" stroke-width="1.4"/>
<path d="M65.60 405.88L68.82 411.52L62.38 411.52Z" fill="#1f4a8a"/>
<text x="74.19999999999999" y="412.0" font-size="8.0" text-anchor="start" fill="#111" stroke="#111" stroke-width="0.14" textLength="17" lengthAdjust="spacingAndGlyphs">H929</text>
<line x1="144.90" y1="460" x2="144.90" y2="548.6" stroke="#222" stroke-width="0.9" stroke-dasharray="1,1.1"/>
<line x1="55.7" y1="457.3" x2="55.7" y2="549.2" stroke="#111" stroke-width="1.3"/>
<line x1="55.1" y1="548.6" x2="192" y2="548.6" stroke="#111" stroke-width="1.3"/>
<line x1="53.1" y1="548.60" x2="55.7" y2="548.60" stroke="#111" stroke-width="0.8"/>
<line x1="54.1" y1="533.80" x2="55.7" y2="533.80" stroke="#111" stroke-width="0.8"/>
<line x1="53.1" y1="519.00" x2="55.7" y2="519.00" stroke="#111" stroke-width="0.8"/>
<line x1="54.1" y1="504.20" x2="55.7" y2="504.20" stroke="#111" stroke-width="0.8"/>
<line x1="53.1" y1="489.40" x2="55.7" y2="489.40" stroke="#111" stroke-width="0.8"/>
<line x1="54.1" y1="474.60" x2="55.7" y2="474.60" stroke="#111" stroke-width="0.8"/>
<line x1="53.1" y1="459.80" x2="55.7" y2="459.80" stroke="#111" stroke-width="0.8"/>
<text x="50.2" y="551.6" font-size="8.3" text-anchor="end" fill="#111" stroke="#111" stroke-width="0.14" textLength="4.38479921875" lengthAdjust="spacingAndGlyphs">0</text>
<text x="50.2" y="522.0" font-size="8.3" text-anchor="end" fill="#111" stroke="#111" stroke-width="0.14" textLength="8.7695984375" lengthAdjust="spacingAndGlyphs">50</text>
<text x="50.2" y="492.40000000000003" font-size="8.3" text-anchor="end" fill="#111" stroke="#111" stroke-width="0.14" textLength="13.15439765625" lengthAdjust="spacingAndGlyphs">100</text>
<text x="50.2" y="462.8" font-size="8.3" text-anchor="end" fill="#111" stroke="#111" stroke-width="0.14" textLength="13.15439765625" lengthAdjust="spacingAndGlyphs">150</text>
<line x1="55.70" y1="548.6" x2="55.70" y2="551.2" stroke="#111" stroke-width="0.7"/>
<line x1="69.13" y1="548.6" x2="69.13" y2="550.1" stroke="#111" stroke-width="0.7"/>
<line x1="76.98" y1="548.6" x2="76.98" y2="550.1" stroke="#111" stroke-width="0.7"/>
<line x1="82.55" y1="548.6" x2="82.55" y2="550.1" stroke="#111" stroke-width="0.7"/>
<line x1="86.87" y1="548.6" x2="86.87" y2="550.1" stroke="#111" stroke-width="0.7"/>
<line x1="90.41" y1="548.6" x2="90.41" y2="550.1" stroke="#111" stroke-width="0.7"/>
<line x1="93.39" y1="548.6" x2="93.39" y2="550.1" stroke="#111" stroke-width="0.7"/>
<line x1="95.98" y1="548.6" x2="95.98" y2="550.1" stroke="#111" stroke-width="0.7"/>
<line x1="98.26" y1="548.6" x2="98.26" y2="550.1" stroke="#111" stroke-width="0.7"/>
<line x1="100.30" y1="548.6" x2="100.30" y2="551.2" stroke="#111" stroke-width="0.7"/>
<line x1="113.73" y1="548.6" x2="113.73" y2="550.1" stroke="#111" stroke-width="0.7"/>
<line x1="121.58" y1="548.6" x2="121.58" y2="550.1" stroke="#111" stroke-width="0.7"/>
<line x1="127.15" y1="548.6" x2="127.15" y2="550.1" stroke="#111" stroke-width="0.7"/>
<line x1="131.47" y1="548.6" x2="131.47" y2="550.1" stroke="#111" stroke-width="0.7"/>
<line x1="135.01" y1="548.6" x2="135.01" y2="550.1" stroke="#111" stroke-width="0.7"/>
<line x1="137.99" y1="548.6" x2="137.99" y2="550.1" stroke="#111" stroke-width="0.7"/>
<line x1="140.58" y1="548.6" x2="140.58" y2="550.1" stroke="#111" stroke-width="0.7"/>
<line x1="142.86" y1="548.6" x2="142.86" y2="550.1" stroke="#111" stroke-width="0.7"/>
<line x1="144.90" y1="548.6" x2="144.90" y2="551.2" stroke="#111" stroke-width="0.7"/>
<line x1="158.33" y1="548.6" x2="158.33" y2="550.1" stroke="#111" stroke-width="0.7"/>
<line x1="166.18" y1="548.6" x2="166.18" y2="550.1" stroke="#111" stroke-width="0.7"/>
<line x1="171.75" y1="548.6" x2="171.75" y2="550.1" stroke="#111" stroke-width="0.7"/>
<line x1="176.07" y1="548.6" x2="176.07" y2="550.1" stroke="#111" stroke-width="0.7"/>
<line x1="179.61" y1="548.6" x2="179.61" y2="550.1" stroke="#111" stroke-width="0.7"/>
<line x1="182.59" y1="548.6" x2="182.59" y2="550.1" stroke="#111" stroke-width="0.7"/>
<line x1="185.18" y1="548.6" x2="185.18" y2="550.1" stroke="#111" stroke-width="0.7"/>
<line x1="187.46" y1="548.6" x2="187.46" y2="550.1" stroke="#111" stroke-width="0.7"/>
<line x1="189.50" y1="548.6" x2="189.50" y2="551.2" stroke="#111" stroke-width="0.7"/>
<text x="55.7" y="562.1" font-size="8.3" text-anchor="middle" fill="#111" stroke="#111" stroke-width="0.14" textLength="8.308040625" lengthAdjust="spacingAndGlyphs">10</text>
<text x="100.3" y="562.1" font-size="8.3" text-anchor="middle" fill="#111" stroke="#111" stroke-width="0.14" textLength="12.4620609375" lengthAdjust="spacingAndGlyphs">100</text>
<text x="144.9" y="562.1" font-size="8.3" text-anchor="middle" fill="#111" stroke="#111" stroke-width="0.14" textLength="16.61608125" lengthAdjust="spacingAndGlyphs">1000</text>
<text x="189.5" y="562.1" font-size="8.3" text-anchor="middle" fill="#111" stroke="#111" stroke-width="0.14" textLength="20.7701015625" lengthAdjust="spacingAndGlyphs">10000</text>
<path d="M57.72 490.58L100.30 495.91L121.58 504.79L142.86 519.00L164.14 537.35L185.42 544.46" fill="none" stroke="#ad0d3a" stroke-width="1.6" stroke-linejoin="round"/>
<path d="M57.72 484.66V496.50M55.72 484.66H59.72M55.72 496.50H59.72" stroke="#ad0d3a" stroke-width="0.9" fill="none"/>
<path d="M100.30 491.18V500.65M98.30 491.18H102.30M98.30 500.65H102.30" stroke="#ad0d3a" stroke-width="0.9" fill="none"/>
<path d="M121.58 500.06V509.53M119.58 500.06H123.58M119.58 509.53H123.58" stroke="#ad0d3a" stroke-width="0.9" fill="none"/>
<path d="M142.86 513.08V524.92M140.86 513.08H144.86M140.86 524.92H144.86" stroke="#ad0d3a" stroke-width="0.9" fill="none"/>
<path d="M164.14 531.43V543.27M162.14 531.43H166.14M162.14 543.27H166.14" stroke="#ad0d3a" stroke-width="0.9" fill="none"/>
<path d="M185.42 539.72V549.19M183.42 539.72H187.42M183.42 549.19H187.42" stroke="#ad0d3a" stroke-width="0.9" fill="none"/>
<circle cx="57.72" cy="490.58" r="2.75" fill="#ad0d3a"/>
<circle cx="100.30" cy="495.91" r="2.75" fill="#ad0d3a"/>
<circle cx="121.58" cy="504.79" r="2.75" fill="#ad0d3a"/>
<circle cx="142.86" cy="519.00" r="2.75" fill="#ad0d3a"/>
<circle cx="164.14" cy="537.35" r="2.75" fill="#ad0d3a"/>
<circle cx="185.42" cy="544.46" r="2.75" fill="#ad0d3a"/>
<path d="M57.72 504.79L79.00 526.10L100.30 542.09L121.58 545.64L142.86 547.42L164.14 548.01L185.42 548.60" fill="none" stroke="#bb7720" stroke-width="1.4" stroke-linejoin="round"/>
<rect x="55.47" y="502.54" width="4.50" height="4.50" fill="#bb7720"/>
<rect x="76.75" y="523.85" width="4.50" height="4.50" fill="#bb7720"/>
<rect x="98.05" y="539.84" width="4.50" height="4.50" fill="#bb7720"/>
<rect x="119.33" y="543.39" width="4.50" height="4.50" fill="#bb7720"/>
<rect x="140.61" y="545.17" width="4.50" height="4.50" fill="#bb7720"/>
<rect x="161.89" y="545.76" width="4.50" height="4.50" fill="#bb7720"/>
<rect x="183.17" y="546.35" width="4.50" height="4.50" fill="#bb7720"/>
<text x="27.8" y="502.9" font-size="9.6" text-anchor="middle" fill="#111" stroke="#111" stroke-width="0.14" textLength="80.5" lengthAdjust="spacingAndGlyphs" transform="rotate(-90 27.8 502.9)">Activity (% control)</text>
<line x1="89.5" y1="468.3" x2="100.1" y2="468.3" stroke="#ad0d3a" stroke-width="1.4"/>
<circle cx="94.80" cy="468.30" r="2.66" fill="#ad0d3a"/>
<text x="103.39999999999999" y="471.2" font-size="8.0" text-anchor="start" fill="#111" stroke="#111" stroke-width="0.14" textLength="13" lengthAdjust="spacingAndGlyphs">β5c</text>
<line x1="89.5" y1="481.0" x2="100.1" y2="481.0" stroke="#bb7720" stroke-width="1.4"/>
<rect x="92.28" y="478.48" width="5.04" height="5.04" fill="#bb7720"/>
<text x="103.39999999999999" y="483.9" font-size="8.0" text-anchor="start" fill="#111" stroke="#111" stroke-width="0.14" textLength="11" lengthAdjust="spacingAndGlyphs">β5i</text>
<line x1="146.10" y1="584" x2="146.10" y2="675.5" stroke="#222" stroke-width="0.9" stroke-dasharray="1,1.1"/>
<line x1="55.7" y1="581.6" x2="55.7" y2="676.1" stroke="#111" stroke-width="1.3"/>
<line x1="55.1" y1="675.5" x2="193" y2="675.5" stroke="#111" stroke-width="1.3"/>
<line x1="53.1" y1="675.50" x2="55.7" y2="675.50" stroke="#111" stroke-width="0.8"/>
<line x1="54.1" y1="660.60" x2="55.7" y2="660.60" stroke="#111" stroke-width="0.8"/>
<line x1="53.1" y1="645.70" x2="55.7" y2="645.70" stroke="#111" stroke-width="0.8"/>
<line x1="54.1" y1="630.80" x2="55.7" y2="630.80" stroke="#111" stroke-width="0.8"/>
<line x1="53.1" y1="615.90" x2="55.7" y2="615.90" stroke="#111" stroke-width="0.8"/>
<line x1="54.1" y1="601.00" x2="55.7" y2="601.00" stroke="#111" stroke-width="0.8"/>
<line x1="53.1" y1="586.10" x2="55.7" y2="586.10" stroke="#111" stroke-width="0.8"/>
<text x="50.2" y="678.5" font-size="8.3" text-anchor="end" fill="#111" stroke="#111" stroke-width="0.14" textLength="4.38479921875" lengthAdjust="spacingAndGlyphs">0</text>
<text x="50.2" y="648.7" font-size="8.3" text-anchor="end" fill="#111" stroke="#111" stroke-width="0.14" textLength="8.7695984375" lengthAdjust="spacingAndGlyphs">50</text>
<text x="50.2" y="618.9" font-size="8.3" text-anchor="end" fill="#111" stroke="#111" stroke-width="0.14" textLength="13.15439765625" lengthAdjust="spacingAndGlyphs">100</text>
<text x="50.2" y="589.1" font-size="8.3" text-anchor="end" fill="#111" stroke="#111" stroke-width="0.14" textLength="13.15439765625" lengthAdjust="spacingAndGlyphs">150</text>
<line x1="55.70" y1="675.5" x2="55.70" y2="678.1" stroke="#111" stroke-width="0.7"/>
<line x1="69.31" y1="675.5" x2="69.31" y2="677.0" stroke="#111" stroke-width="0.7"/>
<line x1="77.27" y1="675.5" x2="77.27" y2="677.0" stroke="#111" stroke-width="0.7"/>
<line x1="82.91" y1="675.5" x2="82.91" y2="677.0" stroke="#111" stroke-width="0.7"/>
<line x1="87.29" y1="675.5" x2="87.29" y2="677.0" stroke="#111" stroke-width="0.7"/>
<line x1="90.87" y1="675.5" x2="90.87" y2="677.0" stroke="#111" stroke-width="0.7"/>
<line x1="93.90" y1="675.5" x2="93.90" y2="677.0" stroke="#111" stroke-width="0.7"/>
<line x1="96.52" y1="675.5" x2="96.52" y2="677.0" stroke="#111" stroke-width="0.7"/>
<line x1="98.83" y1="675.5" x2="98.83" y2="677.0" stroke="#111" stroke-width="0.7"/>
<line x1="100.90" y1="675.5" x2="100.90" y2="678.1" stroke="#111" stroke-width="0.7"/>
<line x1="114.51" y1="675.5" x2="114.51" y2="677.0" stroke="#111" stroke-width="0.7"/>
<line x1="122.47" y1="675.5" x2="122.47" y2="677.0" stroke="#111" stroke-width="0.7"/>
<line x1="128.11" y1="675.5" x2="128.11" y2="677.0" stroke="#111" stroke-width="0.7"/>
<line x1="132.49" y1="675.5" x2="132.49" y2="677.0" stroke="#111" stroke-width="0.7"/>
<line x1="136.07" y1="675.5" x2="136.07" y2="677.0" stroke="#111" stroke-width="0.7"/>
<line x1="139.10" y1="675.5" x2="139.10" y2="677.0" stroke="#111" stroke-width="0.7"/>
<line x1="141.72" y1="675.5" x2="141.72" y2="677.0" stroke="#111" stroke-width="0.7"/>
<line x1="144.03" y1="675.5" x2="144.03" y2="677.0" stroke="#111" stroke-width="0.7"/>
<line x1="146.10" y1="675.5" x2="146.10" y2="678.1" stroke="#111" stroke-width="0.7"/>
<line x1="159.71" y1="675.5" x2="159.71" y2="677.0" stroke="#111" stroke-width="0.7"/>
<line x1="167.67" y1="675.5" x2="167.67" y2="677.0" stroke="#111" stroke-width="0.7"/>
<line x1="173.31" y1="675.5" x2="173.31" y2="677.0" stroke="#111" stroke-width="0.7"/>
<line x1="177.69" y1="675.5" x2="177.69" y2="677.0" stroke="#111" stroke-width="0.7"/>
<line x1="181.27" y1="675.5" x2="181.27" y2="677.0" stroke="#111" stroke-width="0.7"/>
<line x1="184.30" y1="675.5" x2="184.30" y2="677.0" stroke="#111" stroke-width="0.7"/>
<line x1="186.92" y1="675.5" x2="186.92" y2="677.0" stroke="#111" stroke-width="0.7"/>
<line x1="189.23" y1="675.5" x2="189.23" y2="677.0" stroke="#111" stroke-width="0.7"/>
<line x1="191.30" y1="675.5" x2="191.30" y2="678.1" stroke="#111" stroke-width="0.7"/>
<text x="55.7" y="689.0" font-size="8.3" text-anchor="middle" fill="#111" stroke="#111" stroke-width="0.14" textLength="8.308040625" lengthAdjust="spacingAndGlyphs">10</text>
<text x="100.9" y="689.0" font-size="8.3" text-anchor="middle" fill="#111" stroke="#111" stroke-width="0.14" textLength="12.4620609375" lengthAdjust="spacingAndGlyphs">100</text>
<text x="146.1" y="689.0" font-size="8.3" text-anchor="middle" fill="#111" stroke="#111" stroke-width="0.14" textLength="16.61608125" lengthAdjust="spacingAndGlyphs">1000</text>
<text x="191.3" y="689.0" font-size="8.3" text-anchor="middle" fill="#111" stroke="#111" stroke-width="0.14" textLength="20.7701015625" lengthAdjust="spacingAndGlyphs">10000</text>
<path d="M57.75 614.71L79.31 623.65L100.90 631.40L122.47 637.36L144.03 635.57L165.60 634.38L187.16 643.32" fill="none" stroke="#bb7720" stroke-width="1.6" stroke-linejoin="round"/>
<path d="M57.75 603.98V625.44M55.75 603.98H59.75M55.75 625.44H59.75" stroke="#bb7720" stroke-width="0.9" fill="none"/>
<path d="M100.90 626.63V636.16M98.90 626.63H102.90M98.90 636.16H102.90" stroke="#bb7720" stroke-width="0.9" fill="none"/>
<path d="M122.47 631.40V643.32M120.47 631.40H124.47M120.47 643.32H124.47" stroke="#bb7720" stroke-width="0.9" fill="none"/>
<path d="M144.03 628.42V642.72M142.03 628.42H146.03M142.03 642.72H146.03" stroke="#bb7720" stroke-width="0.9" fill="none"/>
<path d="M165.60 629.61V639.14M163.60 629.61H167.60M163.60 639.14H167.60" stroke="#bb7720" stroke-width="0.9" fill="none"/>
<path d="M187.16 640.34V646.30M185.16 640.34H189.16M185.16 646.30H189.16" stroke="#bb7720" stroke-width="0.9" fill="none"/>
<path d="M57.75 611.37L61.08 617.21L54.41 617.21Z" fill="#bb7720"/>
<path d="M79.31 620.31L82.65 626.15L75.98 626.15Z" fill="#bb7720"/>
<path d="M100.90 628.06L104.23 633.90L97.57 633.90Z" fill="#bb7720"/>
<path d="M122.47 634.02L125.80 639.86L119.13 639.86Z" fill="#bb7720"/>
<path d="M144.03 632.23L147.37 638.07L140.70 638.07Z" fill="#bb7720"/>
<path d="M165.60 631.04L168.93 636.88L162.26 636.88Z" fill="#bb7720"/>
<path d="M187.16 639.98L190.50 645.82L183.83 645.82Z" fill="#bb7720"/>
<path d="M57.75 589.08L79.31 620.07L100.90 623.65L122.47 633.18L144.03 639.14L165.60 649.87L187.16 664.18" fill="none" stroke="#5a2a7a" stroke-width="1.6" stroke-linejoin="round"/>
<path d="M79.31 608.15V631.99M77.31 608.15H81.31M77.31 631.99H81.31" stroke="#5a2a7a" stroke-width="0.9" fill="none"/>
<path d="M100.90 611.73V635.57M98.90 611.73H102.90M98.90 635.57H102.90" stroke="#5a2a7a" stroke-width="0.9" fill="none"/>
<path d="M122.47 624.24V642.12M120.47 624.24H124.47M120.47 642.12H124.47" stroke="#5a2a7a" stroke-width="0.9" fill="none"/>
<path d="M144.03 631.99V646.30M142.03 631.99H146.03M142.03 646.30H146.03" stroke="#5a2a7a" stroke-width="0.9" fill="none"/>
<path d="M165.60 642.72V657.02M163.60 642.72H167.60M163.60 657.02H167.60" stroke="#5a2a7a" stroke-width="0.9" fill="none"/>
<path d="M187.16 659.41V668.94M185.16 659.41H189.16M185.16 668.94H189.16" stroke="#5a2a7a" stroke-width="0.9" fill="none"/>
<path d="M57.75 585.60L61.23 589.08L57.75 592.56L54.27 589.08Z" fill="#5a2a7a"/>
<path d="M79.31 616.59L82.79 620.07L79.31 623.55L75.83 620.07Z" fill="#5a2a7a"/>
<path d="M100.90 620.17L104.38 623.65L100.90 627.13L97.42 623.65Z" fill="#5a2a7a"/>
<path d="M122.47 629.70L125.95 633.18L122.47 636.66L118.99 633.18Z" fill="#5a2a7a"/>
<path d="M144.03 635.66L147.51 639.14L144.03 642.62L140.55 639.14Z" fill="#5a2a7a"/>
<path d="M165.60 646.39L169.08 649.87L165.60 653.35L162.12 649.87Z" fill="#5a2a7a"/>
<path d="M187.16 660.70L190.64 664.18L187.16 667.66L183.68 664.18Z" fill="#5a2a7a"/>
<path d="M57.75 588.48L79.31 617.69L100.90 627.82L122.47 633.78L144.03 650.47L165.60 662.39L187.16 668.94" fill="none" stroke="#2a5590" stroke-width="1.6" stroke-linejoin="round"/>
<path d="M79.31 608.75V626.63M77.31 608.75H81.31M77.31 626.63H81.31" stroke="#2a5590" stroke-width="0.9" fill="none"/>
<path d="M100.90 621.86V633.78M98.90 621.86H102.90M98.90 633.78H102.90" stroke="#2a5590" stroke-width="0.9" fill="none"/>
<path d="M122.47 624.84V642.72M120.47 624.84H124.47M120.47 642.72H124.47" stroke="#2a5590" stroke-width="0.9" fill="none"/>
<path d="M144.03 643.32V657.62M142.03 643.32H146.03M142.03 657.62H146.03" stroke="#2a5590" stroke-width="0.9" fill="none"/>
<circle cx="57.75" cy="588.48" r="2.75" fill="#2a5590"/>
<circle cx="79.31" cy="617.69" r="2.75" fill="#2a5590"/>
<circle cx="100.90" cy="627.82" r="2.75" fill="#2a5590"/>
<circle cx="122.47" cy="633.78" r="2.75" fill="#2a5590"/>
<circle cx="144.03" cy="650.47" r="2.75" fill="#2a5590"/>
<circle cx="165.60" cy="662.39" r="2.75" fill="#2a5590"/>
<circle cx="187.16" cy="668.94" r="2.75" fill="#2a5590"/>
<path d="M57.75 590.27L79.31 624.84L100.90 635.57L122.47 642.72L144.03 659.41L165.60 662.39L187.16 668.35" fill="none" stroke="#ad0d3a" stroke-width="1.6" stroke-linejoin="round"/>
<path d="M79.31 612.92V636.76M77.31 612.92H81.31M77.31 636.76H81.31" stroke="#ad0d3a" stroke-width="0.9" fill="none"/>
<path d="M100.90 623.65V647.49M98.90 623.65H102.90M98.90 647.49H102.90" stroke="#ad0d3a" stroke-width="0.9" fill="none"/>
<path d="M122.47 630.80V654.64M120.47 630.80H124.47M120.47 654.64H124.47" stroke="#ad0d3a" stroke-width="0.9" fill="none"/>
<path d="M144.03 654.64V664.18M142.03 654.64H146.03M142.03 664.18H146.03" stroke="#ad0d3a" stroke-width="0.9" fill="none"/>
<path d="M57.75 593.46L60.94 588.04L54.56 588.04Z" fill="#ad0d3a"/>
<path d="M79.31 628.03L82.50 622.61L76.12 622.61Z" fill="#ad0d3a"/>
<path d="M100.90 638.76L104.09 633.34L97.71 633.34Z" fill="#ad0d3a"/>
<path d="M122.47 645.91L125.66 640.49L119.28 640.49Z" fill="#ad0d3a"/>
<path d="M144.03 662.60L147.22 657.18L140.84 657.18Z" fill="#ad0d3a"/>
<path d="M165.60 665.58L168.79 660.16L162.41 660.16Z" fill="#ad0d3a"/>
<path d="M187.16 671.54L190.35 666.12L183.97 666.12Z" fill="#ad0d3a"/>
<text x="27.8" y="628.5" font-size="9.6" text-anchor="middle" fill="#111" stroke="#111" stroke-width="0.14" textLength="80.5" lengthAdjust="spacingAndGlyphs" transform="rotate(-90 27.8 628.5)">Activity (% control)</text>
<text x="125.2" y="703.5" font-size="9.4" text-anchor="middle" fill="#111" stroke="#111" stroke-width="0.14" textLength="65.4" lengthAdjust="spacingAndGlyphs">ONX-0914 (nM)</text>
<line x1="74.10000000000001" y1="586" x2="84.7" y2="586" stroke="#bb7720" stroke-width="1.4"/>
<path d="M79.40 582.78L82.62 588.41L76.18 588.41Z" fill="#bb7720"/>
<text x="88.0" y="588.9" font-size="8.0" text-anchor="start" fill="#111" stroke="#111" stroke-width="0.14" textLength="13" lengthAdjust="spacingAndGlyphs">β1c</text>
<line x1="74.10000000000001" y1="596.2" x2="84.7" y2="596.2" stroke="#ad0d3a" stroke-width="1.4"/>
<path d="M79.40 599.28L82.48 594.04L76.32 594.04Z" fill="#ad0d3a"/>
<text x="88.0" y="599.1" font-size="8.0" text-anchor="start" fill="#111" stroke="#111" stroke-width="0.14" textLength="11" lengthAdjust="spacingAndGlyphs">β1i</text>
<line x1="77.0" y1="658.3" x2="87.6" y2="658.3" stroke="#2a5590" stroke-width="1.4"/>
<circle cx="82.30" cy="658.30" r="2.66" fill="#2a5590"/>
<text x="90.89999999999999" y="661.1999999999999" font-size="8.0" text-anchor="start" fill="#111" stroke="#111" stroke-width="0.14" textLength="11" lengthAdjust="spacingAndGlyphs">β2i</text>
<line x1="77.0" y1="668.2" x2="87.6" y2="668.2" stroke="#5a2a7a" stroke-width="1.4"/>
<path d="M82.30 664.84L85.66 668.20L82.30 671.56L78.94 668.20Z" fill="#5a2a7a"/>
<text x="90.89999999999999" y="671.1" font-size="8.0" text-anchor="start" fill="#111" stroke="#111" stroke-width="0.14" textLength="13" lengthAdjust="spacingAndGlyphs">β2c</text>
<line x1="353.90" y1="209" x2="353.90" y2="288.8" stroke="#222" stroke-width="0.9" stroke-dasharray="1,1.1"/>
<line x1="274.5" y1="207.3" x2="274.5" y2="289.40000000000003" stroke="#111" stroke-width="1.3"/>
<line x1="273.9" y1="288.8" x2="396.5" y2="288.8" stroke="#111" stroke-width="1.3"/>
<line x1="271.9" y1="288.80" x2="274.5" y2="288.80" stroke="#111" stroke-width="0.8"/>
<line x1="272.9" y1="275.73" x2="274.5" y2="275.73" stroke="#111" stroke-width="0.8"/>
<line x1="271.9" y1="262.65" x2="274.5" y2="262.65" stroke="#111" stroke-width="0.8"/>
<line x1="272.9" y1="249.58" x2="274.5" y2="249.58" stroke="#111" stroke-width="0.8"/>
<line x1="271.9" y1="236.50" x2="274.5" y2="236.50" stroke="#111" stroke-width="0.8"/>
<line x1="272.9" y1="223.43" x2="274.5" y2="223.43" stroke="#111" stroke-width="0.8"/>
<line x1="271.9" y1="210.35" x2="274.5" y2="210.35" stroke="#111" stroke-width="0.8"/>
<text x="269.0" y="291.8" font-size="8.3" text-anchor="end" fill="#111" stroke="#111" stroke-width="0.14" textLength="4.38479921875" lengthAdjust="spacingAndGlyphs">0</text>
<text x="269.0" y="265.65000000000003" font-size="8.3" text-anchor="end" fill="#111" stroke="#111" stroke-width="0.14" textLength="8.7695984375" lengthAdjust="spacingAndGlyphs">50</text>
<text x="269.0" y="239.5" font-size="8.3" text-anchor="end" fill="#111" stroke="#111" stroke-width="0.14" textLength="13.15439765625" lengthAdjust="spacingAndGlyphs">100</text>
<text x="269.0" y="213.35000000000002" font-size="8.3" text-anchor="end" fill="#111" stroke="#111" stroke-width="0.14" textLength="13.15439765625" lengthAdjust="spacingAndGlyphs">150</text>
<line x1="274.50" y1="288.8" x2="274.50" y2="291.40000000000003" stroke="#111" stroke-width="0.7"/>
<line x1="286.45" y1="288.8" x2="286.45" y2="290.3" stroke="#111" stroke-width="0.7"/>
<line x1="293.44" y1="288.8" x2="293.44" y2="290.3" stroke="#111" stroke-width="0.7"/>
<line x1="298.40" y1="288.8" x2="298.40" y2="290.3" stroke="#111" stroke-width="0.7"/>
<line x1="302.25" y1="288.8" x2="302.25" y2="290.3" stroke="#111" stroke-width="0.7"/>
<line x1="305.39" y1="288.8" x2="305.39" y2="290.3" stroke="#111" stroke-width="0.7"/>
<line x1="308.05" y1="288.8" x2="308.05" y2="290.3" stroke="#111" stroke-width="0.7"/>
<line x1="310.35" y1="288.8" x2="310.35" y2="290.3" stroke="#111" stroke-width="0.7"/>
<line x1="312.38" y1="288.8" x2="312.38" y2="290.3" stroke="#111" stroke-width="0.7"/>
<line x1="314.20" y1="288.8" x2="314.20" y2="291.40000000000003" stroke="#111" stroke-width="0.7"/>
<line x1="326.15" y1="288.8" x2="326.15" y2="290.3" stroke="#111" stroke-width="0.7"/>
<line x1="333.14" y1="288.8" x2="333.14" y2="290.3" stroke="#111" stroke-width="0.7"/>
<line x1="338.10" y1="288.8" x2="338.10" y2="290.3" stroke="#111" stroke-width="0.7"/>
<line x1="341.95" y1="288.8" x2="341.95" y2="290.3" stroke="#111" stroke-width="0.7"/>
<line x1="345.09" y1="288.8" x2="345.09" y2="290.3" stroke="#111" stroke-width="0.7"/>
<line x1="347.75" y1="288.8" x2="347.75" y2="290.3" stroke="#111" stroke-width="0.7"/>
<line x1="350.05" y1="288.8" x2="350.05" y2="290.3" stroke="#111" stroke-width="0.7"/>
<line x1="352.08" y1="288.8" x2="352.08" y2="290.3" stroke="#111" stroke-width="0.7"/>
<line x1="353.90" y1="288.8" x2="353.90" y2="291.40000000000003" stroke="#111" stroke-width="0.7"/>
<line x1="365.85" y1="288.8" x2="365.85" y2="290.3" stroke="#111" stroke-width="0.7"/>
<line x1="372.84" y1="288.8" x2="372.84" y2="290.3" stroke="#111" stroke-width="0.7"/>
<line x1="377.80" y1="288.8" x2="377.80" y2="290.3" stroke="#111" stroke-width="0.7"/>
<line x1="381.65" y1="288.8" x2="381.65" y2="290.3" stroke="#111" stroke-width="0.7"/>
<line x1="384.79" y1="288.8" x2="384.79" y2="290.3" stroke="#111" stroke-width="0.7"/>
<line x1="387.45" y1="288.8" x2="387.45" y2="290.3" stroke="#111" stroke-width="0.7"/>
<line x1="389.75" y1="288.8" x2="389.75" y2="290.3" stroke="#111" stroke-width="0.7"/>
<line x1="391.78" y1="288.8" x2="391.78" y2="290.3" stroke="#111" stroke-width="0.7"/>
<line x1="393.60" y1="288.8" x2="393.60" y2="291.40000000000003" stroke="#111" stroke-width="0.7"/>
<text x="274.5" y="302.3" font-size="8.3" text-anchor="middle" fill="#111" stroke="#111" stroke-width="0.14" textLength="4.1540203125" lengthAdjust="spacingAndGlyphs">1</text>
<text x="314.2" y="302.3" font-size="8.3" text-anchor="middle" fill="#111" stroke="#111" stroke-width="0.14" textLength="8.308040625" lengthAdjust="spacingAndGlyphs">10</text>
<text x="353.9" y="302.3" font-size="8.3" text-anchor="middle" fill="#111" stroke="#111" stroke-width="0.14" textLength="12.4620609375" lengthAdjust="spacingAndGlyphs">100</text>
<text x="393.6" y="302.3" font-size="8.3" text-anchor="middle" fill="#111" stroke="#111" stroke-width="0.14" textLength="16.61608125" lengthAdjust="spacingAndGlyphs">1000</text>
<path d="M297.06 238.07L315.84 239.12L334.79 240.68L353.90 247.48L372.84 271.54L391.78 278.86" fill="none" stroke="#5aab3c" stroke-width="1.6" stroke-linejoin="round"/>
<circle cx="297.06" cy="238.07" r="2.46" fill="#fff" stroke="#5aab3c" stroke-width="1"/>
<circle cx="315.84" cy="239.12" r="2.46" fill="#fff" stroke="#5aab3c" stroke-width="1"/>
<circle cx="334.79" cy="240.68" r="2.46" fill="#fff" stroke="#5aab3c" stroke-width="1"/>
<circle cx="353.90" cy="247.48" r="2.46" fill="#fff" stroke="#5aab3c" stroke-width="1"/>
<circle cx="372.84" cy="271.54" r="2.46" fill="#fff" stroke="#5aab3c" stroke-width="1"/>
<circle cx="391.78" cy="278.86" r="2.46" fill="#fff" stroke="#5aab3c" stroke-width="1"/>
<path d="M297.06 236.50L315.84 238.07L334.79 243.30L353.90 265.79L372.84 280.43L391.78 284.09" fill="none" stroke="#3f4a63" stroke-width="1.6" stroke-linejoin="round"/>
<circle cx="297.06" cy="236.50" r="2.75" fill="#3f4a63"/>
<circle cx="315.84" cy="238.07" r="2.75" fill="#3f4a63"/>
<circle cx="334.79" cy="243.30" r="2.75" fill="#3f4a63"/>
<circle cx="353.90" cy="265.79" r="2.75" fill="#3f4a63"/>
<circle cx="372.84" cy="280.43" r="2.75" fill="#3f4a63"/>
<circle cx="391.78" cy="284.09" r="2.75" fill="#3f4a63"/>
<path d="M297.06 236.50L315.84 236.50L334.79 236.50L353.90 238.59L372.84 258.47L391.78 280.43" fill="none" stroke="#d3148b" stroke-width="1.6" stroke-linejoin="round"/>
<path d="M297.06 239.03L299.59 234.73L294.53 234.73Z" fill="#d3148b"/>
<path d="M315.84 239.03L318.37 234.73L313.31 234.73Z" fill="#d3148b"/>
<path d="M334.79 239.03L337.32 234.73L332.26 234.73Z" fill="#d3148b"/>
<path d="M353.90 241.12L356.43 236.82L351.37 236.82Z" fill="#d3148b"/>
<path d="M372.84 261.00L375.37 256.69L370.31 256.69Z" fill="#d3148b"/>
<path d="M391.78 282.96L394.31 278.66L389.25 278.66Z" fill="#d3148b"/>
<path d="M297.06 237.55L315.84 238.07L334.79 240.68L353.90 251.67L372.84 264.22L391.78 282.52" fill="none" stroke="#e3961f" stroke-width="1.6" stroke-linejoin="round"/>
<path d="M297.06 234.07L300.54 237.55L297.06 241.03L293.58 237.55Z" fill="#e3961f"/>
<path d="M315.84 234.59L319.32 238.07L315.84 241.55L312.36 238.07Z" fill="#e3961f"/>
<path d="M334.79 237.20L338.27 240.68L334.79 244.16L331.31 240.68Z" fill="#e3961f"/>
<path d="M353.90 248.19L357.38 251.67L353.90 255.15L350.42 251.67Z" fill="#e3961f"/>
<path d="M372.84 260.74L376.32 264.22L372.84 267.70L369.36 264.22Z" fill="#e3961f"/>
<path d="M391.78 279.04L395.26 282.52L391.78 286.00L388.30 282.52Z" fill="#e3961f"/>
<path d="M297.06 235.45L315.84 237.55L334.79 244.87L353.90 272.06L372.84 283.05L391.78 286.71" fill="none" stroke="#ad0d3a" stroke-width="1.6" stroke-linejoin="round"/>
<rect x="294.45" y="232.84" width="5.22" height="5.22" fill="#ad0d3a"/>
<rect x="313.23" y="234.94" width="5.22" height="5.22" fill="#ad0d3a"/>
<rect x="332.18" y="242.26" width="5.22" height="5.22" fill="#ad0d3a"/>
<rect x="351.29" y="269.45" width="5.22" height="5.22" fill="#ad0d3a"/>
<rect x="370.23" y="280.44" width="5.22" height="5.22" fill="#ad0d3a"/>
<rect x="389.17" y="284.10" width="5.22" height="5.22" fill="#ad0d3a"/>
<path d="M297.06 231.27L315.84 232.84L334.79 267.36L353.90 287.75L372.84 288.28L391.78 288.80" fill="none" stroke="#1f4a8a" stroke-width="1.6" stroke-linejoin="round"/>
<path d="M297.06 227.94L300.39 233.77L293.72 233.77Z" fill="#1f4a8a"/>
<path d="M315.84 229.50L319.18 235.34L312.51 235.34Z" fill="#1f4a8a"/>
<path d="M334.79 264.02L338.12 269.86L331.45 269.86Z" fill="#1f4a8a"/>
<path d="M353.90 284.42L357.23 290.26L350.56 290.26Z" fill="#1f4a8a"/>
<path d="M372.84 284.94L376.18 290.78L369.51 290.78Z" fill="#1f4a8a"/>
<path d="M391.78 285.47L395.12 291.30L388.45 291.30Z" fill="#1f4a8a"/>
<text x="248" y="248" font-size="9.6" text-anchor="middle" fill="#111" stroke="#111" stroke-width="0.14" textLength="95.8" lengthAdjust="spacingAndGlyphs" transform="rotate(-90 248 248)">Viable cells (% control)</text>
<text x="338.1" y="316.9" font-size="9.4" text-anchor="middle" fill="#111" stroke="#111" stroke-width="0.14" textLength="71.2" lengthAdjust="spacingAndGlyphs">Bortezomib (nM)</text>
<line x1="277.7" y1="214.2" x2="288.3" y2="214.2" stroke="#5aab3c" stroke-width="1.4"/>
<circle cx="283.00" cy="214.20" r="2.38" fill="#fff" stroke="#5aab3c" stroke-width="1"/>
<text x="291.6" y="217.1" font-size="8.0" text-anchor="start" fill="#111" stroke="#111" stroke-width="0.14" textLength="24" lengthAdjust="spacingAndGlyphs">KMS-11</text>
<line x1="277.7" y1="224.2" x2="288.3" y2="224.2" stroke="#3f4a63" stroke-width="1.4"/>
<circle cx="283.00" cy="224.20" r="2.66" fill="#3f4a63"/>
<text x="291.6" y="227.1" font-size="8.0" text-anchor="start" fill="#111" stroke="#111" stroke-width="0.14" textLength="22" lengthAdjust="spacingAndGlyphs">MM1.S</text>
<line x1="277.7" y1="251.2" x2="288.3" y2="251.2" stroke="#ad0d3a" stroke-width="1.4"/>
<rect x="280.48" y="248.68" width="5.04" height="5.04" fill="#ad0d3a"/>
<text x="291.6" y="254.1" font-size="8.0" text-anchor="start" fill="#111" stroke="#111" stroke-width="0.14" textLength="22.5" lengthAdjust="spacingAndGlyphs">MM1.R</text>
<line x1="277.7" y1="261.5" x2="288.3" y2="261.5" stroke="#d3148b" stroke-width="1.4"/>
<path d="M283.00 264.58L286.08 259.34L279.92 259.34Z" fill="#d3148b"/>
<text x="291.6" y="264.4" font-size="8.0" text-anchor="start" fill="#111" stroke="#111" stroke-width="0.14" textLength="13" lengthAdjust="spacingAndGlyphs">LR5</text>
<line x1="277.7" y1="272" x2="288.3" y2="272" stroke="#1f4a8a" stroke-width="1.4"/>
<path d="M283.00 268.78L286.22 274.42L279.78 274.42Z" fill="#1f4a8a"/>
<text x="291.6" y="274.9" font-size="8.0" text-anchor="start" fill="#111" stroke="#111" stroke-width="0.14" textLength="17" lengthAdjust="spacingAndGlyphs">H929</text>
<line x1="277.7" y1="282.3" x2="288.3" y2="282.3" stroke="#e3961f" stroke-width="1.4"/>
<path d="M283.00 278.94L286.36 282.30L283.00 285.66L279.64 282.30Z" fill="#e3961f"/>
<text x="291.6" y="285.2" font-size="8.0" text-anchor="start" fill="#111" stroke="#111" stroke-width="0.14" textLength="34" lengthAdjust="spacingAndGlyphs">RPMI-8226</text>
<line x1="321.21" y1="331" x2="321.21" y2="415" stroke="#222" stroke-width="0.9" stroke-dasharray="1,1.1"/>
<line x1="275.2" y1="330.2" x2="275.2" y2="415.6" stroke="#111" stroke-width="1.3"/>
<line x1="274.59999999999997" y1="415" x2="399.5" y2="415" stroke="#111" stroke-width="1.3"/>
<line x1="272.59999999999997" y1="415.00" x2="275.2" y2="415.00" stroke="#111" stroke-width="0.8"/>
<line x1="273.59999999999997" y1="401.27" x2="275.2" y2="401.27" stroke="#111" stroke-width="0.8"/>
<line x1="272.59999999999997" y1="387.55" x2="275.2" y2="387.55" stroke="#111" stroke-width="0.8"/>
<line x1="273.59999999999997" y1="373.82" x2="275.2" y2="373.82" stroke="#111" stroke-width="0.8"/>
<line x1="272.59999999999997" y1="360.10" x2="275.2" y2="360.10" stroke="#111" stroke-width="0.8"/>
<line x1="273.59999999999997" y1="346.38" x2="275.2" y2="346.38" stroke="#111" stroke-width="0.8"/>
<line x1="272.59999999999997" y1="332.65" x2="275.2" y2="332.65" stroke="#111" stroke-width="0.8"/>
<text x="269.7" y="418.0" font-size="8.3" text-anchor="end" fill="#111" stroke="#111" stroke-width="0.14" textLength="4.38479921875" lengthAdjust="spacingAndGlyphs">0</text>
<text x="269.7" y="390.55" font-size="8.3" text-anchor="end" fill="#111" stroke="#111" stroke-width="0.14" textLength="8.7695984375" lengthAdjust="spacingAndGlyphs">50</text>
<text x="269.7" y="363.1" font-size="8.3" text-anchor="end" fill="#111" stroke="#111" stroke-width="0.14" textLength="13.15439765625" lengthAdjust="spacingAndGlyphs">100</text>
<text x="269.7" y="335.65" font-size="8.3" text-anchor="end" fill="#111" stroke="#111" stroke-width="0.14" textLength="13.15439765625" lengthAdjust="spacingAndGlyphs">150</text>
<line x1="275.20" y1="415" x2="275.20" y2="417.6" stroke="#111" stroke-width="0.7"/>
<line x1="284.32" y1="415" x2="284.32" y2="416.5" stroke="#111" stroke-width="0.7"/>
<line x1="289.66" y1="415" x2="289.66" y2="416.5" stroke="#111" stroke-width="0.7"/>
<line x1="293.44" y1="415" x2="293.44" y2="416.5" stroke="#111" stroke-width="0.7"/>
<line x1="296.38" y1="415" x2="296.38" y2="416.5" stroke="#111" stroke-width="0.7"/>
<line x1="298.78" y1="415" x2="298.78" y2="416.5" stroke="#111" stroke-width="0.7"/>
<line x1="300.81" y1="415" x2="300.81" y2="416.5" stroke="#111" stroke-width="0.7"/>
<line x1="302.56" y1="415" x2="302.56" y2="416.5" stroke="#111" stroke-width="0.7"/>
<line x1="304.11" y1="415" x2="304.11" y2="416.5" stroke="#111" stroke-width="0.7"/>
<line x1="305.50" y1="415" x2="305.50" y2="417.6" stroke="#111" stroke-width="0.7"/>
<line x1="314.62" y1="415" x2="314.62" y2="416.5" stroke="#111" stroke-width="0.7"/>
<line x1="319.96" y1="415" x2="319.96" y2="416.5" stroke="#111" stroke-width="0.7"/>
<line x1="323.74" y1="415" x2="323.74" y2="416.5" stroke="#111" stroke-width="0.7"/>
<line x1="326.68" y1="415" x2="326.68" y2="416.5" stroke="#111" stroke-width="0.7"/>
<line x1="329.08" y1="415" x2="329.08" y2="416.5" stroke="#111" stroke-width="0.7"/>
<line x1="331.11" y1="415" x2="331.11" y2="416.5" stroke="#111" stroke-width="0.7"/>
<line x1="332.86" y1="415" x2="332.86" y2="416.5" stroke="#111" stroke-width="0.7"/>
<line x1="334.41" y1="415" x2="334.41" y2="416.5" stroke="#111" stroke-width="0.7"/>
<line x1="335.80" y1="415" x2="335.80" y2="417.6" stroke="#111" stroke-width="0.7"/>
<line x1="344.92" y1="415" x2="344.92" y2="416.5" stroke="#111" stroke-width="0.7"/>
<line x1="350.26" y1="415" x2="350.26" y2="416.5" stroke="#111" stroke-width="0.7"/>
<line x1="354.04" y1="415" x2="354.04" y2="416.5" stroke="#111" stroke-width="0.7"/>
<line x1="356.98" y1="415" x2="356.98" y2="416.5" stroke="#111" stroke-width="0.7"/>
<line x1="359.38" y1="415" x2="359.38" y2="416.5" stroke="#111" stroke-width="0.7"/>
<line x1="361.41" y1="415" x2="361.41" y2="416.5" stroke="#111" stroke-width="0.7"/>
<line x1="363.16" y1="415" x2="363.16" y2="416.5" stroke="#111" stroke-width="0.7"/>
<line x1="364.71" y1="415" x2="364.71" y2="416.5" stroke="#111" stroke-width="0.7"/>
<line x1="366.10" y1="415" x2="366.10" y2="417.6" stroke="#111" stroke-width="0.7"/>
<line x1="375.22" y1="415" x2="375.22" y2="416.5" stroke="#111" stroke-width="0.7"/>
<line x1="380.56" y1="415" x2="380.56" y2="416.5" stroke="#111" stroke-width="0.7"/>
<line x1="384.34" y1="415" x2="384.34" y2="416.5" stroke="#111" stroke-width="0.7"/>
<line x1="387.28" y1="415" x2="387.28" y2="416.5" stroke="#111" stroke-width="0.7"/>
<line x1="389.68" y1="415" x2="389.68" y2="416.5" stroke="#111" stroke-width="0.7"/>
<line x1="391.71" y1="415" x2="391.71" y2="416.5" stroke="#111" stroke-width="0.7"/>
<line x1="393.46" y1="415" x2="393.46" y2="416.5" stroke="#111" stroke-width="0.7"/>
<line x1="395.01" y1="415" x2="395.01" y2="416.5" stroke="#111" stroke-width="0.7"/>
<line x1="396.40" y1="415" x2="396.40" y2="417.6" stroke="#111" stroke-width="0.7"/>
<text x="275.2" y="428.5" font-size="8.3" text-anchor="middle" fill="#111" stroke="#111" stroke-width="0.14" textLength="4.1540203125" lengthAdjust="spacingAndGlyphs">1</text>
<text x="305.5" y="428.5" font-size="8.3" text-anchor="middle" fill="#111" stroke="#111" stroke-width="0.14" textLength="8.308040625" lengthAdjust="spacingAndGlyphs">10</text>
<text x="335.8" y="428.5" font-size="8.3" text-anchor="middle" fill="#111" stroke="#111" stroke-width="0.14" textLength="12.4620609375" lengthAdjust="spacingAndGlyphs">100</text>
<text x="366.1" y="428.5" font-size="8.3" text-anchor="middle" fill="#111" stroke="#111" stroke-width="0.14" textLength="16.61608125" lengthAdjust="spacingAndGlyphs">1000</text>
<text x="396.4" y="428.5" font-size="8.3" text-anchor="middle" fill="#111" stroke="#111" stroke-width="0.14" textLength="20.7701015625" lengthAdjust="spacingAndGlyphs">10000</text>
<path d="M276.45 359.00L292.42 359.00L306.75 373.82L321.21 411.16L335.80 413.90L350.26 415.00" fill="none" stroke="#1f4a8a" stroke-width="1.6" stroke-linejoin="round"/>
<path d="M306.75 367.24V380.41M304.75 367.24H308.75M304.75 380.41H308.75" stroke="#1f4a8a" stroke-width="0.9" fill="none"/>
<path d="M276.45 355.67L279.79 361.50L273.12 361.50Z" fill="#1f4a8a"/>
<path d="M292.42 355.67L295.75 361.50L289.08 361.50Z" fill="#1f4a8a"/>
<path d="M306.75 370.49L310.09 376.33L303.42 376.33Z" fill="#1f4a8a"/>
<path d="M321.21 407.82L324.55 413.66L317.88 413.66Z" fill="#1f4a8a"/>
<path d="M335.80 410.57L339.13 416.40L332.47 416.40Z" fill="#1f4a8a"/>
<path d="M350.26 411.67L353.59 417.50L346.92 417.50Z" fill="#1f4a8a"/>
<path d="M276.45 358.45L292.42 358.45L306.75 373.82L321.21 388.65L335.80 404.02L350.26 414.45L364.71 415.00" fill="none" stroke="#3f4a63" stroke-width="1.6" stroke-linejoin="round"/>
<path d="M306.75 368.33V379.31M304.75 368.33H308.75M304.75 379.31H308.75" stroke="#3f4a63" stroke-width="0.9" fill="none"/>
<circle cx="276.45" cy="358.45" r="2.75" fill="#3f4a63"/>
<circle cx="292.42" cy="358.45" r="2.75" fill="#3f4a63"/>
<circle cx="306.75" cy="373.82" r="2.75" fill="#3f4a63"/>
<circle cx="321.21" cy="388.65" r="2.75" fill="#3f4a63"/>
<circle cx="335.80" cy="404.02" r="2.75" fill="#3f4a63"/>
<circle cx="350.26" cy="414.45" r="2.75" fill="#3f4a63"/>
<circle cx="364.71" cy="415.00" r="2.75" fill="#3f4a63"/>
<path d="M276.45 358.45L292.42 357.90L306.75 362.30L321.21 398.53L335.80 413.90L350.26 414.45" fill="none" stroke="#ad0d3a" stroke-width="1.6" stroke-linejoin="round"/>
<path d="M321.21 395.78V401.27M319.21 395.78H323.21M319.21 401.27H323.21" stroke="#ad0d3a" stroke-width="0.9" fill="none"/>
<rect x="273.84" y="355.84" width="5.22" height="5.22" fill="#ad0d3a"/>
<rect x="289.81" y="355.29" width="5.22" height="5.22" fill="#ad0d3a"/>
<rect x="304.14" y="359.69" width="5.22" height="5.22" fill="#ad0d3a"/>
<rect x="318.60" y="395.92" width="5.22" height="5.22" fill="#ad0d3a"/>
<rect x="333.19" y="411.29" width="5.22" height="5.22" fill="#ad0d3a"/>
<rect x="347.65" y="411.84" width="5.22" height="5.22" fill="#ad0d3a"/>
<path d="M276.45 355.16L292.42 357.36L306.75 359.55L321.21 365.04L335.80 376.57L350.26 392.49L364.71 407.31L379.17 411.71" fill="none" stroke="#5aab3c" stroke-width="1.6" stroke-linejoin="round"/>
<path d="M335.80 373.28V379.86M333.80 373.28H337.80M333.80 379.86H337.80" stroke="#5aab3c" stroke-width="0.9" fill="none"/>
<path d="M350.26 388.10V396.88M348.26 388.10H352.26M348.26 396.88H352.26" stroke="#5aab3c" stroke-width="0.9" fill="none"/>
<circle cx="276.45" cy="355.16" r="2.46" fill="#fff" stroke="#5aab3c" stroke-width="1"/>
<circle cx="292.42" cy="357.36" r="2.46" fill="#fff" stroke="#5aab3c" stroke-width="1"/>
<circle cx="306.75" cy="359.55" r="2.46" fill="#fff" stroke="#5aab3c" stroke-width="1"/>
<circle cx="321.21" cy="365.04" r="2.46" fill="#fff" stroke="#5aab3c" stroke-width="1"/>
<circle cx="335.80" cy="376.57" r="2.46" fill="#fff" stroke="#5aab3c" stroke-width="1"/>
<circle cx="350.26" cy="392.49" r="2.46" fill="#fff" stroke="#5aab3c" stroke-width="1"/>
<circle cx="364.71" cy="407.31" r="2.46" fill="#fff" stroke="#5aab3c" stroke-width="1"/>
<circle cx="379.17" cy="411.71" r="2.46" fill="#fff" stroke="#5aab3c" stroke-width="1"/>
<path d="M292.42 360.65L306.75 352.41L321.21 359.00L335.80 368.88L350.26 397.43L364.71 411.16L379.17 413.35" fill="none" stroke="#e3961f" stroke-width="1.6" stroke-linejoin="round"/>
<path d="M292.42 358.01L295.06 360.65L292.42 363.29L289.78 360.65Z" fill="#e3961f"/>
<path d="M306.75 349.77L309.39 352.41L306.75 355.05L304.11 352.41Z" fill="#e3961f"/>
<path d="M321.21 356.36L323.85 359.00L321.21 361.64L318.57 359.00Z" fill="#e3961f"/>
<path d="M335.80 366.24L338.44 368.88L335.80 371.52L333.16 368.88Z" fill="#e3961f"/>
<path d="M350.26 394.79L352.90 397.43L350.26 400.07L347.62 397.43Z" fill="#e3961f"/>
<path d="M364.71 408.52L367.35 411.16L364.71 413.80L362.07 411.16Z" fill="#e3961f"/>
<path d="M379.17 410.71L381.81 413.35L379.17 415.99L376.53 413.35Z" fill="#e3961f"/>
<path d="M276.45 358.45L292.42 354.61L306.75 354.61L321.21 353.51L335.80 355.71L350.26 368.33L364.71 401.82L379.17 412.80" fill="none" stroke="#d3148b" stroke-width="1.6" stroke-linejoin="round"/>
<path d="M350.26 362.84V373.82M348.26 362.84H352.26M348.26 373.82H352.26" stroke="#d3148b" stroke-width="0.9" fill="none"/>
<path d="M364.71 390.84V412.80M362.71 390.84H366.71M362.71 412.80H366.71" stroke="#d3148b" stroke-width="0.9" fill="none"/>
<path d="M276.45 360.87L278.87 356.76L274.03 356.76Z" fill="#d3148b"/>
<path d="M292.42 357.03L294.84 352.92L290.00 352.92Z" fill="#d3148b"/>
<path d="M306.75 357.03L309.17 352.92L304.33 352.92Z" fill="#d3148b"/>
<path d="M321.21 355.93L323.63 351.82L318.79 351.82Z" fill="#d3148b"/>
<path d="M335.80 358.13L338.22 354.01L333.38 354.01Z" fill="#d3148b"/>
<path d="M350.26 370.75L352.68 366.64L347.84 366.64Z" fill="#d3148b"/>
<path d="M364.71 404.24L367.13 400.13L362.29 400.13Z" fill="#d3148b"/>
<path d="M379.17 415.22L381.59 411.11L376.75 411.11Z" fill="#d3148b"/>
<text x="248" y="374" font-size="9.6" text-anchor="middle" fill="#111" stroke="#111" stroke-width="0.14" textLength="95.8" lengthAdjust="spacingAndGlyphs" transform="rotate(-90 248 374)">Viable cells (% control)</text>
<text x="338.1" y="441.9" font-size="9.4" text-anchor="middle" fill="#111" stroke="#111" stroke-width="0.14" textLength="71.2" lengthAdjust="spacingAndGlyphs">Carfilzomib (nM)</text>
<text x="335.1" y="460.8" font-size="10.0" text-anchor="middle" fill="#111" stroke="#111" stroke-width="0.14" textLength="45.5" lengthAdjust="spacingAndGlyphs">RPMI-8226</text>
<line x1="352.70" y1="470" x2="352.70" y2="548.8" stroke="#222" stroke-width="0.9" stroke-dasharray="1,1.1"/>
<line x1="274.3" y1="468.5" x2="274.3" y2="549.4" stroke="#111" stroke-width="1.3"/>
<line x1="273.7" y1="548.8" x2="394.5" y2="548.8" stroke="#111" stroke-width="1.3"/>
<line x1="271.7" y1="548.80" x2="274.3" y2="548.80" stroke="#111" stroke-width="0.8"/>
<line x1="272.7" y1="535.72" x2="274.3" y2="535.72" stroke="#111" stroke-width="0.8"/>
<line x1="271.7" y1="522.65" x2="274.3" y2="522.65" stroke="#111" stroke-width="0.8"/>
<line x1="272.7" y1="509.57" x2="274.3" y2="509.57" stroke="#111" stroke-width="0.8"/>
<line x1="271.7" y1="496.50" x2="274.3" y2="496.50" stroke="#111" stroke-width="0.8"/>
<line x1="272.7" y1="483.42" x2="274.3" y2="483.42" stroke="#111" stroke-width="0.8"/>
<line x1="271.7" y1="470.35" x2="274.3" y2="470.35" stroke="#111" stroke-width="0.8"/>
<text x="268.8" y="551.8" font-size="8.3" text-anchor="end" fill="#111" stroke="#111" stroke-width="0.14" textLength="4.38479921875" lengthAdjust="spacingAndGlyphs">0</text>
<text x="268.8" y="525.65" font-size="8.3" text-anchor="end" fill="#111" stroke="#111" stroke-width="0.14" textLength="8.7695984375" lengthAdjust="spacingAndGlyphs">50</text>
<text x="268.8" y="499.49999999999994" font-size="8.3" text-anchor="end" fill="#111" stroke="#111" stroke-width="0.14" textLength="13.15439765625" lengthAdjust="spacingAndGlyphs">100</text>
<text x="268.8" y="473.34999999999997" font-size="8.3" text-anchor="end" fill="#111" stroke="#111" stroke-width="0.14" textLength="13.15439765625" lengthAdjust="spacingAndGlyphs">150</text>
<line x1="274.30" y1="548.8" x2="274.30" y2="551.4" stroke="#111" stroke-width="0.7"/>
<line x1="286.10" y1="548.8" x2="286.10" y2="550.3" stroke="#111" stroke-width="0.7"/>
<line x1="293.00" y1="548.8" x2="293.00" y2="550.3" stroke="#111" stroke-width="0.7"/>
<line x1="297.90" y1="548.8" x2="297.90" y2="550.3" stroke="#111" stroke-width="0.7"/>
<line x1="301.70" y1="548.8" x2="301.70" y2="550.3" stroke="#111" stroke-width="0.7"/>
<line x1="304.80" y1="548.8" x2="304.80" y2="550.3" stroke="#111" stroke-width="0.7"/>
<line x1="307.43" y1="548.8" x2="307.43" y2="550.3" stroke="#111" stroke-width="0.7"/>
<line x1="309.70" y1="548.8" x2="309.70" y2="550.3" stroke="#111" stroke-width="0.7"/>
<line x1="311.71" y1="548.8" x2="311.71" y2="550.3" stroke="#111" stroke-width="0.7"/>
<line x1="313.50" y1="548.8" x2="313.50" y2="551.4" stroke="#111" stroke-width="0.7"/>
<line x1="325.30" y1="548.8" x2="325.30" y2="550.3" stroke="#111" stroke-width="0.7"/>
<line x1="332.20" y1="548.8" x2="332.20" y2="550.3" stroke="#111" stroke-width="0.7"/>
<line x1="337.10" y1="548.8" x2="337.10" y2="550.3" stroke="#111" stroke-width="0.7"/>
<line x1="340.90" y1="548.8" x2="340.90" y2="550.3" stroke="#111" stroke-width="0.7"/>
<line x1="344.00" y1="548.8" x2="344.00" y2="550.3" stroke="#111" stroke-width="0.7"/>
<line x1="346.63" y1="548.8" x2="346.63" y2="550.3" stroke="#111" stroke-width="0.7"/>
<line x1="348.90" y1="548.8" x2="348.90" y2="550.3" stroke="#111" stroke-width="0.7"/>
<line x1="350.91" y1="548.8" x2="350.91" y2="550.3" stroke="#111" stroke-width="0.7"/>
<line x1="352.70" y1="548.8" x2="352.70" y2="551.4" stroke="#111" stroke-width="0.7"/>
<line x1="364.50" y1="548.8" x2="364.50" y2="550.3" stroke="#111" stroke-width="0.7"/>
<line x1="371.40" y1="548.8" x2="371.40" y2="550.3" stroke="#111" stroke-width="0.7"/>
<line x1="376.30" y1="548.8" x2="376.30" y2="550.3" stroke="#111" stroke-width="0.7"/>
<line x1="380.10" y1="548.8" x2="380.10" y2="550.3" stroke="#111" stroke-width="0.7"/>
<line x1="383.20" y1="548.8" x2="383.20" y2="550.3" stroke="#111" stroke-width="0.7"/>
<line x1="385.83" y1="548.8" x2="385.83" y2="550.3" stroke="#111" stroke-width="0.7"/>
<line x1="388.10" y1="548.8" x2="388.10" y2="550.3" stroke="#111" stroke-width="0.7"/>
<line x1="390.11" y1="548.8" x2="390.11" y2="550.3" stroke="#111" stroke-width="0.7"/>
<line x1="391.90" y1="548.8" x2="391.90" y2="551.4" stroke="#111" stroke-width="0.7"/>
<text x="274.3" y="562.3" font-size="8.3" text-anchor="middle" fill="#111" stroke="#111" stroke-width="0.14" textLength="8.308040625" lengthAdjust="spacingAndGlyphs">10</text>
<text x="313.5" y="562.3" font-size="8.3" text-anchor="middle" fill="#111" stroke="#111" stroke-width="0.14" textLength="12.4620609375" lengthAdjust="spacingAndGlyphs">100</text>
<text x="352.7" y="562.3" font-size="8.3" text-anchor="middle" fill="#111" stroke="#111" stroke-width="0.14" textLength="16.61608125" lengthAdjust="spacingAndGlyphs">1000</text>
<text x="391.9" y="562.3" font-size="8.3" text-anchor="middle" fill="#111" stroke="#111" stroke-width="0.14" textLength="20.7701015625" lengthAdjust="spacingAndGlyphs">10000</text>
<path d="M294.78 496.50L313.50 497.55L332.20 495.45L350.91 498.59L369.61 523.70L388.31 545.14" fill="none" stroke="#8b84c0" stroke-width="1.6" stroke-linejoin="round"/>
<path d="M313.50 493.36V501.73M311.50 493.36H315.50M311.50 501.73H315.50" stroke="#8b84c0" stroke-width="0.9" fill="none"/>
<path d="M350.91 492.32V504.87M348.91 492.32H352.91M348.91 504.87H352.91" stroke="#8b84c0" stroke-width="0.9" fill="none"/>
<path d="M369.61 521.60V525.79M367.61 521.60H371.61M367.61 525.79H371.61" stroke="#8b84c0" stroke-width="0.9" fill="none"/>
<circle cx="294.78" cy="496.50" r="2.28" fill="#8b84c0"/>
<circle cx="313.50" cy="497.55" r="2.28" fill="#8b84c0"/>
<circle cx="332.20" cy="495.45" r="2.28" fill="#8b84c0"/>
<circle cx="350.91" cy="498.59" r="2.28" fill="#8b84c0"/>
<circle cx="369.61" cy="523.70" r="2.28" fill="#8b84c0"/>
<circle cx="388.31" cy="545.14" r="2.28" fill="#8b84c0"/>
<path d="M294.78 501.21L313.50 511.14L332.20 524.74L350.91 540.43L369.61 548.28L388.31 548.28" fill="none" stroke="#ad0d3a" stroke-width="1.6" stroke-linejoin="round"/>
<path d="M332.20 523.17V526.31M330.20 523.17H334.20M330.20 526.31H334.20" stroke="#ad0d3a" stroke-width="0.9" fill="none"/>
<rect x="292.62" y="499.05" width="4.32" height="4.32" fill="#ad0d3a"/>
<rect x="311.34" y="508.98" width="4.32" height="4.32" fill="#ad0d3a"/>
<rect x="330.04" y="522.58" width="4.32" height="4.32" fill="#ad0d3a"/>
<rect x="348.75" y="538.27" width="4.32" height="4.32" fill="#ad0d3a"/>
<rect x="367.45" y="546.12" width="4.32" height="4.32" fill="#ad0d3a"/>
<rect x="386.15" y="546.12" width="4.32" height="4.32" fill="#ad0d3a"/>
<text x="248" y="508" font-size="9.6" text-anchor="middle" fill="#111" stroke="#111" stroke-width="0.14" textLength="95.8" lengthAdjust="spacingAndGlyphs" transform="rotate(-90 248 508)">Viable cells (% control)</text>
<text x="334.3" y="576.8" font-size="9.4" text-anchor="middle" fill="#111" stroke="#111" stroke-width="0.14" textLength="64.4" lengthAdjust="spacingAndGlyphs">ONX-0914 (nM)</text>
<line x1="277.0" y1="529" x2="287.6" y2="529" stroke="#8b84c0" stroke-width="1.4"/>
<circle cx="282.30" cy="529.00" r="2.66" fill="#8b84c0"/>
<text x="290.90000000000003" y="531.9" font-size="8.0" text-anchor="start" fill="#111" stroke="#111" stroke-width="0.14" textLength="19" lengthAdjust="spacingAndGlyphs">Mock</text>
<line x1="277.0" y1="541.2" x2="287.6" y2="541.2" stroke="#ad0d3a" stroke-width="1.4"/>
<rect x="279.78" y="538.68" width="5.04" height="5.04" fill="#ad0d3a"/>
<text x="290.90000000000003" y="544.1" font-size="8.0" text-anchor="start" fill="#111" stroke="#111" stroke-width="0.14" textLength="20" lengthAdjust="spacingAndGlyphs">IFN-γ</text>
<line x1="296.17" y1="592" x2="296.17" y2="675.7" stroke="#222" stroke-width="0.9" stroke-dasharray="1,1.1"/>
<line x1="274.7" y1="590.2" x2="274.7" y2="676.3000000000001" stroke="#111" stroke-width="1.3"/>
<line x1="274.09999999999997" y1="675.7" x2="401" y2="675.7" stroke="#111" stroke-width="1.3"/>
<line x1="272.09999999999997" y1="675.70" x2="274.7" y2="675.70" stroke="#111" stroke-width="0.8"/>
<line x1="273.09999999999997" y1="661.85" x2="274.7" y2="661.85" stroke="#111" stroke-width="0.8"/>
<line x1="272.09999999999997" y1="648.00" x2="274.7" y2="648.00" stroke="#111" stroke-width="0.8"/>
<line x1="273.09999999999997" y1="634.15" x2="274.7" y2="634.15" stroke="#111" stroke-width="0.8"/>
<line x1="272.09999999999997" y1="620.30" x2="274.7" y2="620.30" stroke="#111" stroke-width="0.8"/>
<line x1="273.09999999999997" y1="606.45" x2="274.7" y2="606.45" stroke="#111" stroke-width="0.8"/>
<line x1="272.09999999999997" y1="592.60" x2="274.7" y2="592.60" stroke="#111" stroke-width="0.8"/>
<text x="269.2" y="678.7" font-size="8.3" text-anchor="end" fill="#111" stroke="#111" stroke-width="0.14" textLength="4.38479921875" lengthAdjust="spacingAndGlyphs">0</text>
<text x="269.2" y="651.0" font-size="8.3" text-anchor="end" fill="#111" stroke="#111" stroke-width="0.14" textLength="8.7695984375" lengthAdjust="spacingAndGlyphs">50</text>
<text x="269.2" y="623.3000000000001" font-size="8.3" text-anchor="end" fill="#111" stroke="#111" stroke-width="0.14" textLength="13.15439765625" lengthAdjust="spacingAndGlyphs">100</text>
<text x="269.2" y="595.6" font-size="8.3" text-anchor="end" fill="#111" stroke="#111" stroke-width="0.14" textLength="13.15439765625" lengthAdjust="spacingAndGlyphs">150</text>
<line x1="274.70" y1="675.7" x2="274.70" y2="678.3000000000001" stroke="#111" stroke-width="0.7"/>
<line x1="287.16" y1="675.7" x2="287.16" y2="677.2" stroke="#111" stroke-width="0.7"/>
<line x1="294.45" y1="675.7" x2="294.45" y2="677.2" stroke="#111" stroke-width="0.7"/>
<line x1="299.63" y1="675.7" x2="299.63" y2="677.2" stroke="#111" stroke-width="0.7"/>
<line x1="303.64" y1="675.7" x2="303.64" y2="677.2" stroke="#111" stroke-width="0.7"/>
<line x1="306.92" y1="675.7" x2="306.92" y2="677.2" stroke="#111" stroke-width="0.7"/>
<line x1="309.69" y1="675.7" x2="309.69" y2="677.2" stroke="#111" stroke-width="0.7"/>
<line x1="312.09" y1="675.7" x2="312.09" y2="677.2" stroke="#111" stroke-width="0.7"/>
<line x1="314.21" y1="675.7" x2="314.21" y2="677.2" stroke="#111" stroke-width="0.7"/>
<line x1="316.10" y1="675.7" x2="316.10" y2="678.3000000000001" stroke="#111" stroke-width="0.7"/>
<line x1="328.56" y1="675.7" x2="328.56" y2="677.2" stroke="#111" stroke-width="0.7"/>
<line x1="335.85" y1="675.7" x2="335.85" y2="677.2" stroke="#111" stroke-width="0.7"/>
<line x1="341.03" y1="675.7" x2="341.03" y2="677.2" stroke="#111" stroke-width="0.7"/>
<line x1="345.04" y1="675.7" x2="345.04" y2="677.2" stroke="#111" stroke-width="0.7"/>
<line x1="348.32" y1="675.7" x2="348.32" y2="677.2" stroke="#111" stroke-width="0.7"/>
<line x1="351.09" y1="675.7" x2="351.09" y2="677.2" stroke="#111" stroke-width="0.7"/>
<line x1="353.49" y1="675.7" x2="353.49" y2="677.2" stroke="#111" stroke-width="0.7"/>
<line x1="355.61" y1="675.7" x2="355.61" y2="677.2" stroke="#111" stroke-width="0.7"/>
<line x1="357.50" y1="675.7" x2="357.50" y2="678.3000000000001" stroke="#111" stroke-width="0.7"/>
<line x1="369.96" y1="675.7" x2="369.96" y2="677.2" stroke="#111" stroke-width="0.7"/>
<line x1="377.25" y1="675.7" x2="377.25" y2="677.2" stroke="#111" stroke-width="0.7"/>
<line x1="382.43" y1="675.7" x2="382.43" y2="677.2" stroke="#111" stroke-width="0.7"/>
<line x1="386.44" y1="675.7" x2="386.44" y2="677.2" stroke="#111" stroke-width="0.7"/>
<line x1="389.72" y1="675.7" x2="389.72" y2="677.2" stroke="#111" stroke-width="0.7"/>
<line x1="392.49" y1="675.7" x2="392.49" y2="677.2" stroke="#111" stroke-width="0.7"/>
<line x1="394.89" y1="675.7" x2="394.89" y2="677.2" stroke="#111" stroke-width="0.7"/>
<line x1="397.01" y1="675.7" x2="397.01" y2="677.2" stroke="#111" stroke-width="0.7"/>
<line x1="398.90" y1="675.7" x2="398.90" y2="678.3000000000001" stroke="#111" stroke-width="0.7"/>
<text x="274.7" y="689.2" font-size="8.3" text-anchor="middle" fill="#111" stroke="#111" stroke-width="0.14" textLength="8.308040625" lengthAdjust="spacingAndGlyphs">10</text>
<text x="316.1" y="689.2" font-size="8.3" text-anchor="middle" fill="#111" stroke="#111" stroke-width="0.14" textLength="12.4620609375" lengthAdjust="spacingAndGlyphs">100</text>
<text x="357.5" y="689.2" font-size="8.3" text-anchor="middle" fill="#111" stroke="#111" stroke-width="0.14" textLength="16.61608125" lengthAdjust="spacingAndGlyphs">1000</text>
<text x="398.9" y="689.2" font-size="8.3" text-anchor="middle" fill="#111" stroke="#111" stroke-width="0.14" textLength="20.7701015625" lengthAdjust="spacingAndGlyphs">10000</text>
<path d="M276.58 614.76L296.33 613.65L316.10 620.85L335.85 631.38L355.61 667.94L375.36 674.59" fill="none" stroke="#8b84c0" stroke-width="1.6" stroke-linejoin="round"/>
<path d="M316.10 615.31V626.39M314.10 615.31H318.10M314.10 626.39H318.10" stroke="#8b84c0" stroke-width="0.9" fill="none"/>
<path d="M335.85 625.84V636.92M333.85 625.84H337.85M333.85 636.92H337.85" stroke="#8b84c0" stroke-width="0.9" fill="none"/>
<circle cx="276.58" cy="614.76" r="2.28" fill="#8b84c0"/>
<circle cx="296.33" cy="613.65" r="2.28" fill="#8b84c0"/>
<circle cx="316.10" cy="620.85" r="2.28" fill="#8b84c0"/>
<circle cx="335.85" cy="631.38" r="2.28" fill="#8b84c0"/>
<circle cx="355.61" cy="667.94" r="2.28" fill="#8b84c0"/>
<circle cx="375.36" cy="674.59" r="2.28" fill="#8b84c0"/>
<path d="M276.58 622.52L296.33 621.41L316.10 631.38L335.85 649.11L355.61 675.15L375.36 675.15" fill="none" stroke="#ad0d3a" stroke-width="1.6" stroke-linejoin="round"/>
<path d="M296.33 618.64V624.18M294.33 618.64H298.33M294.33 624.18H298.33" stroke="#ad0d3a" stroke-width="0.9" fill="none"/>
<path d="M316.10 625.84V636.92M314.10 625.84H318.10M314.10 636.92H318.10" stroke="#ad0d3a" stroke-width="0.9" fill="none"/>
<path d="M335.85 639.14V659.08M333.85 639.14H337.85M333.85 659.08H337.85" stroke="#ad0d3a" stroke-width="0.9" fill="none"/>
<rect x="274.42" y="620.36" width="4.32" height="4.32" fill="#ad0d3a"/>
<rect x="294.17" y="619.25" width="4.32" height="4.32" fill="#ad0d3a"/>
<rect x="313.94" y="629.22" width="4.32" height="4.32" fill="#ad0d3a"/>
<rect x="333.69" y="646.95" width="4.32" height="4.32" fill="#ad0d3a"/>
<rect x="353.45" y="672.99" width="4.32" height="4.32" fill="#ad0d3a"/>
<rect x="373.20" y="672.99" width="4.32" height="4.32" fill="#ad0d3a"/>
<text x="248" y="634" font-size="9.6" text-anchor="middle" fill="#111" stroke="#111" stroke-width="0.14" textLength="95.8" lengthAdjust="spacingAndGlyphs" transform="rotate(-90 248 634)">Viable cells (% control)</text>
<text x="338.6" y="703.5" font-size="9.4" text-anchor="middle" fill="#111" stroke="#111" stroke-width="0.14" textLength="71.2" lengthAdjust="spacingAndGlyphs">Carfilzomib (nM)</text>
<defs><linearGradient id="bgap" x1="0" x2="1" y1="0" y2="0"><stop offset="0" stop-color="#fff" stop-opacity="0"/><stop offset="0.5" stop-color="#fff" stop-opacity="0.85"/><stop offset="1" stop-color="#fff" stop-opacity="0"/></linearGradient></defs>
<rect x="436.8" y="495.0" width="42.0" height="22.0" fill="#a9a9a9"/>
<rect x="436.8" y="517.0" width="42.0" height="27.299999999999955" fill="#c6c6c6"/>
<rect x="436.8" y="495.0" width="2.2" height="49.299999999999955" fill="#e6e6e6" opacity="0.6"/>
<rect x="436.8" y="542.3" width="42.0" height="1.6" fill="#e6e6e6" opacity="0.7"/>
<rect x="436.8" y="495.5" width="42.0" height="1.5" fill="#d8d8d8" opacity="0.7"/>
<rect x="436.8" y="515.0" width="42.0" height="1.6" fill="#d0d0d0" opacity="0.8"/>
<rect x="454.5" y="495.0" width="9" height="22.0" fill="url(#bgap)"/>
<rect x="455" y="517.0" width="8" height="27.299999999999955" fill="url(#bgap)" opacity="0.4"/>
<path d="M440 530.5Q448 525.0 456 530.5" fill="none" stroke="#888" stroke-width="1.2" opacity="0.35" filter="url(#b05)"/>
<path d="M462 530.5Q470 525.0 477 530.5" fill="none" stroke="#888" stroke-width="1.2" opacity="0.35" filter="url(#b05)"/>
<path d="M440 537.5Q448 532.0 456 537.5" fill="none" stroke="#888" stroke-width="1.2" opacity="0.35" filter="url(#b05)"/>
<path d="M462 537.5Q470 532.0 477 537.5" fill="none" stroke="#888" stroke-width="1.2" opacity="0.35" filter="url(#b05)"/>
<path d="M440.2 506.9C442 503.5 446 502.6 451 502.6L456.5 503.2C457.6 504 457.6 505.5 456.6 506.2L449.5 506.4L456.6 507.2C457.8 508.2 457.8 510.6 456.5 511.4L451 511.6C446 511.5 442 510.5 440.2 506.9Z" fill="#050505" filter="url(#b05)"/>
<path d="M445.5 506.9C447 505.3 450 505.1 455 505.6L455 508.1C450 508.6 447 508.4 445.5 506.9Z" fill="#777" filter="url(#b05)"/>
<path d="M463 502C465 499.8 470 499.6 474 500.2C477 501 477.6 504 477.5 506.5C477.5 510 476.8 512.6 474.5 513.2L466 513.3C463 513 461.6 510.5 461.6 507C461.6 504.5 462 503 463 502Z" fill="#000" filter="url(#b05)"/>
<rect x="436.8" y="495.0" width="42.0" height="49.299999999999955" fill="none" stroke="#1a1a1a" stroke-width="1.2"/>
<line x1="436.8" y1="517.0" x2="478.8" y2="517.0" stroke="#3a3a3a" stroke-width="1.1"/>
<text x="458.7" y="476.6" font-size="8.2" text-anchor="middle" fill="#111" stroke="#111" stroke-width="0.14" textLength="8.4" lengthAdjust="spacingAndGlyphs">4d</text>
<text x="433.3" y="489.3" font-size="8.2" text-anchor="end" fill="#111" stroke="#111" stroke-width="0.14" textLength="18.6" lengthAdjust="spacingAndGlyphs">IFN-γ</text>
<text x="447" y="489.0" font-size="8.2" text-anchor="middle" fill="#111" stroke="#111" stroke-width="0.14">-</text>
<text x="469.9" y="489.3" font-size="8.2" text-anchor="middle" fill="#111" stroke="#111" stroke-width="0.14">+</text>
<text x="433.3" y="505.2" font-size="9.0" text-anchor="end" fill="#111" stroke="#111" stroke-width="0.14" textLength="11.7" lengthAdjust="spacingAndGlyphs">β5i</text>
<text x="433.3" y="514.7" font-size="9.0" text-anchor="end" fill="#111" stroke="#111" stroke-width="0.14" textLength="13" lengthAdjust="spacingAndGlyphs">β5c</text>
<text x="483" y="506.3" font-size="8.6" text-anchor="start" fill="#111" stroke="#111" stroke-width="0.14" textLength="26.4" lengthAdjust="spacingAndGlyphs">BD-NC-</text>
<text x="483" y="515.8" font-size="8.6" text-anchor="start" fill="#111" stroke="#111" stroke-width="0.14" textLength="23.5" lengthAdjust="spacingAndGlyphs">005-vs</text>
<text x="483" y="538.0" font-size="8.6" text-anchor="start" fill="#111" stroke="#111" stroke-width="0.14" textLength="28" lengthAdjust="spacingAndGlyphs">Loading</text>
<rect x="444.1" y="628.06" width="17.8" height="47.44" fill="#8b84c0"/>
<rect x="470.9" y="652.97" width="17.3" height="22.53" fill="#a5002f"/>
<path d="M453 628.06V622.13M448.4 622.13H457.6" stroke="#222" stroke-width="1.1" fill="none"/>
<path d="M479.6 652.97V645.26M475 645.26H484.2" stroke="#222" stroke-width="1.1" fill="none"/>
<line x1="439.4" y1="584.3" x2="439.4" y2="676.2" stroke="#111" stroke-width="1.4"/>
<line x1="438.7" y1="675.5" x2="492.2" y2="675.5" stroke="#111" stroke-width="1.4"/>
<line x1="436.79999999999995" y1="675.50" x2="439.4" y2="675.50" stroke="#111" stroke-width="0.8"/>
<line x1="437.79999999999995" y1="660.67" x2="439.4" y2="660.67" stroke="#111" stroke-width="0.8"/>
<line x1="436.79999999999995" y1="645.85" x2="439.4" y2="645.85" stroke="#111" stroke-width="0.8"/>
<line x1="437.79999999999995" y1="631.02" x2="439.4" y2="631.02" stroke="#111" stroke-width="0.8"/>
<line x1="436.79999999999995" y1="616.20" x2="439.4" y2="616.20" stroke="#111" stroke-width="0.8"/>
<line x1="437.79999999999995" y1="601.38" x2="439.4" y2="601.38" stroke="#111" stroke-width="0.8"/>
<line x1="436.79999999999995" y1="586.55" x2="439.4" y2="586.55" stroke="#111" stroke-width="0.8"/>
<text x="434.2" y="678.5" font-size="8.6" text-anchor="end" fill="#111" stroke="#111" stroke-width="0.14" textLength="4.6" lengthAdjust="spacingAndGlyphs">0</text>
<text x="434.2" y="648.85" font-size="8.6" text-anchor="end" fill="#111" stroke="#111" stroke-width="0.14" textLength="9.2" lengthAdjust="spacingAndGlyphs">50</text>
<text x="434.2" y="619.2" font-size="8.6" text-anchor="end" fill="#111" stroke="#111" stroke-width="0.14" textLength="13.799999999999999" lengthAdjust="spacingAndGlyphs">100</text>
<text x="434.2" y="589.55" font-size="8.6" text-anchor="end" fill="#111" stroke="#111" stroke-width="0.14" textLength="13.799999999999999" lengthAdjust="spacingAndGlyphs">150</text>
<line x1="453" y1="675.5" x2="453" y2="678.1" stroke="#111" stroke-width="0.8"/>
<line x1="479.6" y1="675.5" x2="479.6" y2="678.1" stroke="#111" stroke-width="0.8"/>
<text x="466.2" y="579.2" font-size="9.4" text-anchor="middle" fill="#111" stroke="#111" stroke-width="0.14" textLength="31.6" lengthAdjust="spacingAndGlyphs">KMS-11</text>
<text x="466.4" y="592.1" font-size="7.8" text-anchor="middle" fill="#111" stroke="#111" stroke-width="0.14" textLength="23" lengthAdjust="spacingAndGlyphs">900nm</text>
<text x="466.4" y="601.8" font-size="7.8" text-anchor="middle" fill="#111" stroke="#111" stroke-width="0.14" textLength="15.5" lengthAdjust="spacingAndGlyphs">ONX</text>
<text x="453" y="690" font-size="7.8" text-anchor="middle" fill="#111" stroke="#111" stroke-width="0.14" textLength="18.6" lengthAdjust="spacingAndGlyphs">Mock</text>
<text x="479.5" y="690" font-size="7.8" text-anchor="middle" fill="#111" stroke="#111" stroke-width="0.14" textLength="18.5" lengthAdjust="spacingAndGlyphs">IFN-γ</text>
<rect x="1" y="1" width="518" height="712" fill="none" stroke="#161616" stroke-width="2.2"/>
</svg>
</body></html>
